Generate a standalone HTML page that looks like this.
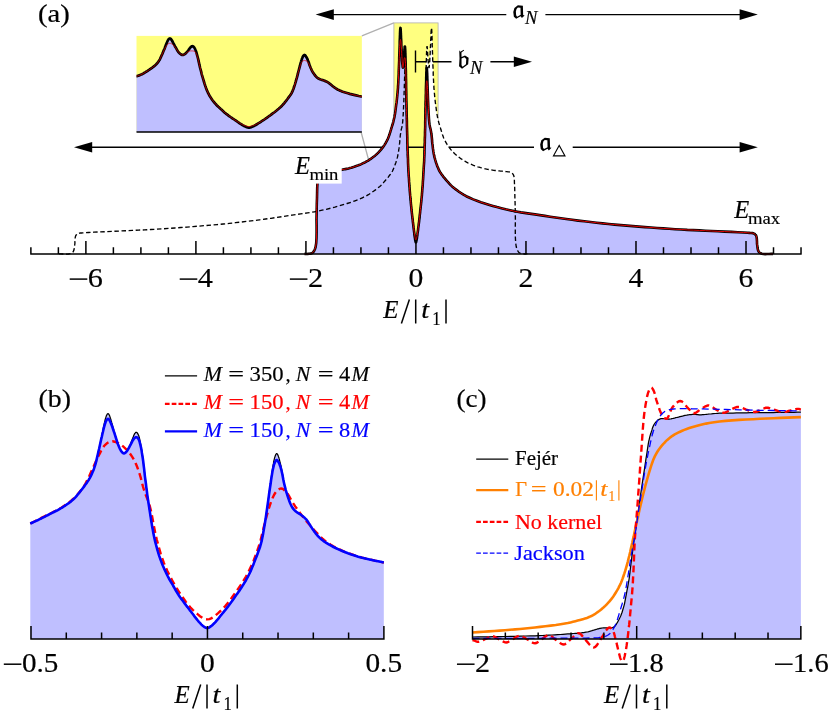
<!DOCTYPE html>
<html><head><meta charset="utf-8"><title>figure</title>
<style>html,body{margin:0;padding:0;background:#fff}svg{display:block}text{font-family:"Liberation Serif",serif}</style>
</head><body>
<svg width="832" height="713" viewBox="0 0 832 713">
<rect width="832" height="713" fill="#fff"/>
<g font-family="Liberation Serif, serif" fill="#000" style="will-change:opacity;opacity:0.9999">
<rect x="136.5" y="35.9" width="225.35" height="96" fill="#ffff80"/>
<rect x="393.9" y="22.9" width="44.2" height="230.6" fill="#ffff80" stroke="#b0b0b0" stroke-width="0.8"/>
<path d="M361.85,35.9 L393.9,22.9 M361.2,132.5 L393.9,253.5" stroke="#b0b0b0" stroke-width="1.3" fill="none"/>
<g stroke="#000" stroke-width="1.4" fill="none">
<path d="M330,14.6 H506.3 M545.4,14.6 H745"/>
<path d="M88,147.25 H534 M572.7,147.25 H745"/>
<path d="M415.5,50.5 V72.6 M415.5,61.7 H451.5 M490.4,61.7 H520"/>
</g>
<path d="M315.6,14.6 L333.8,9.3 L333.8,19.9 Z"/><path d="M757.8,14.6 L739.5999999999999,9.3 L739.5999999999999,19.9 Z"/><path d="M74,147.25 L92.2,141.95 L92.2,152.55 Z"/><path d="M757.8,147.25 L739.5999999999999,141.95 L739.5999999999999,152.55 Z"/><path d="M532,61.7 L513.8,56.400000000000006 L513.8,67.0 Z"/>
<path d="M58.9,253.9 L60.8,253.9 L62.8,254.0 L64.8,254.0 L66.7,254.1 L68.5,254.0 L69.9,253.7 L70.6,253.5 L71.2,253.2 L71.8,252.9 L72.3,252.6 L72.8,252.2 L73.2,251.7 L73.6,250.9 L74.0,249.8 L74.2,248.7 L74.4,247.5 L74.5,246.2 L74.7,245.0 L74.9,243.5 L74.9,241.9 L75.0,240.2 L75.1,238.6 L75.3,237.2 L75.6,236.0 L75.9,235.4 L76.2,235.0 L76.6,234.6 L76.9,234.2 L77.4,233.9 L77.9,233.6 L78.7,233.3 L79.5,233.1 L80.5,233.0 L81.5,233.0 L82.7,232.9 L84.1,232.8 L88.4,232.5 L94.0,232.2 L100.4,231.9 L107.2,231.6 L114.0,231.3 L120.4,231.0 L126.5,230.7 L132.5,230.4 L138.6,230.1 L144.6,229.9 L150.7,229.5 L156.7,229.2 L162.8,228.8 L168.8,228.4 L174.9,228.0 L180.9,227.5 L187.0,227.1 L193.0,226.6 L199.1,226.1 L205.1,225.6 L211.2,225.1 L217.2,224.6 L223.3,224.0 L229.3,223.4 L235.4,222.7 L241.5,222.0 L247.6,221.3 L253.7,220.6 L259.7,219.8 L265.6,219.0 L271.0,218.3 L276.4,217.5 L281.8,216.7 L287.0,215.9 L292.1,215.1 L296.9,214.4 L300.6,213.9 L304.2,213.4 L307.6,212.9 L311.0,212.4 L314.4,211.8 L318.0,211.1 L322.1,210.2 L326.3,209.3 L330.6,208.2 L334.9,207.1 L339.1,205.9 L343.2,204.7 L347.1,203.5 L351.1,202.2 L355.0,200.8 L358.7,199.4 L362.3,197.8 L365.7,196.2 L368.4,194.7 L371.0,193.0 L373.5,191.3 L375.8,189.6 L377.9,188.0 L379.8,186.4 L380.9,185.4 L381.8,184.5 L382.6,183.6 L383.4,182.7 L384.1,181.9 L384.9,181.0 L385.5,180.3 L386.1,179.6 L386.7,178.9 L387.3,178.2 L387.9,177.5 L388.5,176.9 L389.1,175.9 L389.8,175.0 L390.5,174.1 L391.2,173.1 L391.8,172.1 L392.5,171.0 L393.0,169.9 L393.5,168.7 L394.0,167.5 L394.6,166.3 L395.0,165.0 L395.5,163.6 L395.9,162.5 L396.3,161.2 L396.7,159.9 L397.0,158.6 L397.4,157.4 L397.7,156.1 L397.8,155.3 L398.0,154.5 L398.2,153.7 L398.3,152.9 L398.4,152.1 L398.6,151.2 L398.7,150.3 L398.8,149.4 L399.0,148.4 L399.1,147.4 L399.2,146.4 L399.3,145.4 L399.4,144.4 L399.6,143.4 L399.7,142.4 L399.8,141.4 L399.8,140.4 L399.9,139.5 L400.0,138.5 L400.1,137.5 L400.2,136.5 L400.3,135.5 L400.4,134.5 L400.6,133.6 L400.7,132.8 L400.8,132.1 L400.9,131.3 L401.1,130.6 L401.2,129.9 L401.3,129.2 L401.5,128.7 L401.6,128.2 L401.7,127.7 L401.9,127.2 L402.0,126.6 L402.1,126.0 L402.2,125.4 L402.3,124.8 L402.4,124.2 L402.5,123.5 L402.6,122.7 L402.7,121.8 L402.8,120.6 L402.9,119.3 L403.0,117.8 L403.1,116.2 L403.2,114.6 L403.3,112.9 L403.4,110.8 L403.5,108.6 L403.6,106.3 L403.7,103.9 L403.8,101.5 L403.9,99.0 L404.0,96.2 L404.1,93.1 L404.2,90.0 L404.3,87.0 L404.4,84.1 L404.5,81.5 L404.5,79.8 L404.6,78.1 L404.6,76.5 L404.7,75.0 L404.7,73.7 L404.8,72.4 L404.8,71.7 L404.9,71.0 L404.9,70.3 L404.9,69.7 L405.0,69.2 L405.0,68.7 L405.0,68.5 L405.1,68.3 L405.1,68.1 L405.1,67.9 L405.1,67.8 L405.2,67.8 L405.2,67.8 L405.2,67.9 L405.2,68.1 L405.3,68.3 L405.3,68.5 L405.3,68.7 L405.3,69.2 L405.4,69.7 L405.4,70.2 L405.4,70.8 L405.5,71.5 L405.5,72.2 L405.5,73.3 L405.6,74.6 L405.6,76.0 L405.7,77.4 L405.7,79.0 L405.7,80.7 L405.8,83.5 L405.9,86.6 L406.0,90.0 L406.0,93.5 L406.1,97.1 L406.2,100.7 L406.3,104.9 L406.4,109.4 L406.5,113.9 L406.6,118.4 L406.7,122.7 L406.7,126.7 L406.8,129.6 L406.9,132.4 L406.9,135.0 L407.0,137.6 L407.1,140.2 L407.1,142.7 L407.2,145.3 L407.3,147.9 L407.4,150.5 L407.4,153.1 L407.5,155.5 L407.6,157.7 L407.7,159.4 L407.7,160.9 L407.8,162.4 L407.9,163.8 L408.0,165.2 L408.1,166.7 L408.2,168.4 L408.3,170.1 L408.4,171.9 L408.5,173.6 L408.6,175.4 L408.7,177.1 L408.8,179.2 L409.0,181.3 L409.1,183.5 L409.2,185.6 L409.4,187.7 L409.6,189.8 L409.7,191.6 L409.9,193.5 L410.0,195.3 L410.2,197.1 L410.4,198.9 L410.5,200.6 L410.7,202.4 L410.9,204.2 L411.1,205.9 L411.3,207.7 L411.5,209.4 L411.7,211.0 L411.8,212.6 L412.0,214.2 L412.2,215.7 L412.3,217.3 L412.5,218.8 L412.7,220.2 L412.8,221.6 L413.0,223.0 L413.2,224.3 L413.3,225.6 L413.5,226.9 L413.7,228.2 L413.8,229.6 L414.0,231.0 L414.2,232.3 L414.4,233.6 L414.5,234.9 L414.7,236.0 L414.8,236.9 L414.9,237.7 L415.0,238.5 L415.2,239.2 L415.3,239.9 L415.4,240.5 L415.5,240.9 L415.6,241.3 L415.7,241.7 L415.8,242.1 L415.9,242.3 L416.0,242.4 L416.1,242.3 L416.2,242.1 L416.3,241.8 L416.4,241.4 L416.5,241.0 L416.6,240.5 L416.7,240.0 L416.8,239.3 L416.9,238.6 L417.0,237.8 L417.2,236.9 L417.3,236.0 L417.5,234.8 L417.6,233.4 L417.8,231.9 L418.0,230.3 L418.2,228.8 L418.4,227.2 L418.5,225.8 L418.7,224.3 L418.9,222.8 L419.1,221.4 L419.2,219.9 L419.4,218.4 L419.6,216.7 L419.8,215.1 L420.0,213.4 L420.2,211.7 L420.4,210.0 L420.5,208.2 L420.7,206.4 L420.9,204.6 L421.1,202.7 L421.2,200.8 L421.4,199.0 L421.5,197.2 L421.7,195.9 L421.8,194.7 L421.9,193.5 L422.0,192.3 L422.1,191.1 L422.2,189.8 L422.3,187.9 L422.5,186.0 L422.6,183.9 L422.8,181.9 L422.9,179.8 L423.0,177.8 L423.2,175.8 L423.3,174.0 L423.4,172.1 L423.5,170.2 L423.6,168.2 L423.7,166.2 L423.8,164.1 L423.9,161.9 L423.9,159.7 L424.0,157.4 L424.1,155.1 L424.2,152.7 L424.3,149.9 L424.4,147.0 L424.5,144.0 L424.6,140.9 L424.6,137.8 L424.7,134.7 L424.8,131.6 L424.9,128.3 L425.0,125.1 L425.0,121.8 L425.1,118.6 L425.2,115.2 L425.3,111.8 L425.3,108.3 L425.4,104.8 L425.5,101.3 L425.6,97.7 L425.6,94.2 L425.7,90.4 L425.8,86.5 L425.8,82.6 L425.9,78.7 L426.0,74.9 L426.0,71.4 L426.1,68.7 L426.2,66.0 L426.2,63.4 L426.3,61.0 L426.4,58.7 L426.4,56.5 L426.5,55.0 L426.5,53.6 L426.6,52.3 L426.6,51.0 L426.7,49.9 L426.7,48.9 L426.8,48.4 L426.8,47.8 L426.9,47.4 L426.9,47.0 L427.0,46.7 L427.0,46.6 L427.1,46.6 L427.1,46.7 L427.2,46.9 L427.2,47.1 L427.2,47.4 L427.3,47.8 L427.3,48.4 L427.4,49.1 L427.5,50.0 L427.5,51.0 L427.6,51.9 L427.6,52.9 L427.7,54.1 L427.8,55.5 L427.9,56.8 L427.9,58.2 L428.0,59.5 L428.1,60.8 L428.2,61.8 L428.3,62.8 L428.4,63.8 L428.4,64.7 L428.5,65.5 L428.6,66.1 L428.7,66.5 L428.7,66.9 L428.8,67.2 L428.9,67.4 L428.9,67.6 L429.0,67.6 L429.0,67.6 L429.1,67.4 L429.2,67.1 L429.2,66.7 L429.3,66.3 L429.3,65.8 L429.4,65.1 L429.5,64.1 L429.6,63.1 L429.7,61.9 L429.8,60.7 L429.8,59.5 L429.9,58.0 L430.0,56.5 L430.1,54.8 L430.2,53.1 L430.2,51.4 L430.3,49.7 L430.4,47.9 L430.5,46.0 L430.6,44.1 L430.6,42.2 L430.7,40.3 L430.8,38.6 L430.9,37.3 L430.9,36.0 L431.0,34.7 L431.0,33.5 L431.1,32.4 L431.1,31.4 L431.2,30.9 L431.2,30.3 L431.2,29.8 L431.2,29.4 L431.3,29.0 L431.3,28.6 L431.3,28.5 L431.4,28.3 L431.4,28.2 L431.4,28.1 L431.4,28.0 L431.5,27.9 L431.5,28.0 L431.5,28.1 L431.5,28.2 L431.5,28.3 L431.6,28.5 L431.6,28.6 L431.6,29.0 L431.7,29.4 L431.7,29.8 L431.7,30.3 L431.8,30.9 L431.8,31.4 L431.8,32.2 L431.9,33.1 L431.9,34.0 L431.9,35.0 L432.0,36.1 L432.0,37.2 L432.1,39.4 L432.2,41.9 L432.2,44.6 L432.3,47.3 L432.4,50.1 L432.5,52.7 L432.6,55.2 L432.7,57.7 L432.7,60.1 L432.8,62.5 L432.9,64.9 L433.0,67.3 L433.1,69.5 L433.2,71.7 L433.2,73.8 L433.3,75.9 L433.4,77.9 L433.5,79.8 L433.6,81.3 L433.6,82.7 L433.7,84.0 L433.8,85.3 L433.9,86.5 L433.9,87.7 L434.0,88.8 L434.1,89.8 L434.2,90.8 L434.3,91.8 L434.3,92.8 L434.5,93.9 L434.6,95.6 L434.8,97.4 L435.0,99.3 L435.2,101.1 L435.4,103.0 L435.7,104.8 L435.9,106.4 L436.1,108.0 L436.3,109.6 L436.5,111.1 L436.7,112.5 L436.9,113.9 L437.1,114.9 L437.3,115.8 L437.4,116.7 L437.6,117.6 L437.8,118.4 L438.0,119.2 L438.2,120.0 L438.4,120.8 L438.5,121.5 L438.7,122.3 L438.9,123.0 L439.1,123.6 L439.3,124.3 L439.5,125.0 L439.7,125.6 L439.9,126.2 L440.1,126.9 L440.3,127.5 L440.6,128.4 L440.8,129.3 L441.1,130.2 L441.4,131.1 L441.6,132.0 L441.9,132.8 L442.2,133.7 L442.4,134.5 L442.7,135.3 L443.0,136.1 L443.3,136.9 L443.6,137.8 L443.9,138.5 L444.3,139.3 L444.7,140.1 L445.1,140.9 L445.5,141.6 L445.9,142.4 L446.3,143.2 L446.8,143.9 L447.2,144.6 L447.7,145.4 L448.2,146.1 L448.8,146.9 L449.5,147.9 L450.3,148.9 L451.1,149.9 L452.0,150.9 L452.9,151.9 L453.8,152.8 L454.7,153.7 L455.7,154.6 L456.6,155.4 L457.6,156.2 L458.7,157.0 L459.7,157.8 L460.8,158.6 L461.9,159.3 L463.0,160.1 L464.1,160.8 L465.3,161.4 L466.5,162.1 L467.8,162.8 L469.2,163.4 L470.6,164.1 L472.0,164.7 L473.5,165.3 L474.9,165.8 L476.3,166.3 L477.7,166.8 L479.1,167.2 L480.6,167.7 L482.0,168.0 L483.3,168.4 L484.4,168.7 L485.5,168.9 L486.6,169.1 L487.7,169.3 L488.8,169.5 L489.9,169.7 L491.2,169.9 L492.5,170.1 L493.8,170.3 L495.2,170.5 L496.6,170.6 L497.9,170.8 L499.2,170.9 L500.6,171.1 L502.0,171.2 L503.3,171.3 L504.7,171.4 L505.9,171.6 L506.9,171.7 L508.0,171.8 L509.0,171.9 L509.9,172.0 L510.8,172.3 L511.5,172.6 L512.0,173.0 L512.4,173.4 L512.8,173.8 L513.1,174.3 L513.4,174.9 L513.7,175.5 L514.0,176.6 L514.2,177.8 L514.3,179.1 L514.4,180.6 L514.4,182.2 L514.5,184.0 L514.7,187.9 L514.8,192.6 L514.9,197.8 L515.1,203.2 L515.2,208.7 L515.3,214.0 L515.4,219.7 L515.3,225.9 L515.3,232.1 L515.4,238.0 L515.7,243.1 L516.3,247.0 L516.7,248.3 L517.1,249.5 L517.6,250.5 L518.1,251.4 L518.7,252.2 L519.4,252.8 L520.1,253.2 L520.8,253.5 L521.6,253.6 L522.4,253.7 L523.2,253.8 L523.9,253.9 L524.5,254.0 L525.1,254.0 L525.7,254.0 L526.2,253.9 L526.8,253.9 L527.4,253.9 L527.4,253.9 L58.9,253.9 Z" fill="#fff"/>
<path d="M304.5,253.9 L305.1,253.9 L305.7,253.9 L306.2,254.0 L306.8,254.0 L307.4,254.0 L308.0,253.9 L308.7,253.8 L309.5,253.7 L310.3,253.6 L311.1,253.5 L311.8,253.2 L312.5,252.8 L313.2,252.2 L313.8,251.4 L314.3,250.5 L314.8,249.5 L315.2,248.3 L315.6,247.0 L316.2,243.1 L316.5,238.0 L316.6,232.1 L316.6,225.9 L316.5,219.7 L316.6,214.0 L316.7,208.7 L316.8,203.2 L317.0,197.8 L317.1,192.6 L317.2,187.9 L317.4,184.0 L317.5,182.2 L317.5,180.6 L317.6,179.1 L317.7,177.8 L317.9,176.6 L318.2,175.5 L318.5,174.9 L318.8,174.3 L319.1,173.8 L319.5,173.4 L319.9,173.0 L320.4,172.6 L321.1,172.3 L322.0,172.0 L322.9,171.9 L323.9,171.8 L325.0,171.7 L326.0,171.6 L327.2,171.4 L328.6,171.3 L329.9,171.2 L331.3,171.1 L332.7,170.9 L334.0,170.8 L335.3,170.6 L336.7,170.5 L338.1,170.3 L339.4,170.1 L340.7,169.9 L342.0,169.7 L343.1,169.5 L344.2,169.3 L345.3,169.1 L346.4,168.9 L347.5,168.7 L348.6,168.4 L349.9,168.0 L351.3,167.7 L352.8,167.2 L354.2,166.8 L355.6,166.3 L357.0,165.8 L358.4,165.3 L359.9,164.7 L361.3,164.1 L362.7,163.4 L364.1,162.8 L365.4,162.1 L366.6,161.4 L367.8,160.8 L368.9,160.1 L370.0,159.3 L371.1,158.6 L372.2,157.8 L373.2,157.0 L374.3,156.2 L375.3,155.4 L376.2,154.6 L377.2,153.7 L378.1,152.8 L379.0,151.9 L379.9,150.9 L380.8,149.9 L381.6,148.9 L382.4,147.9 L383.1,146.9 L383.7,146.1 L384.2,145.4 L384.7,144.6 L385.1,143.9 L385.6,143.2 L386.0,142.4 L386.4,141.6 L386.8,140.9 L387.2,140.1 L387.6,139.3 L388.0,138.5 L388.3,137.8 L388.6,136.9 L388.9,136.1 L389.2,135.3 L389.5,134.5 L389.7,133.7 L390.0,132.8 L390.3,132.0 L390.5,131.1 L390.8,130.2 L391.1,129.3 L391.3,128.4 L391.6,127.5 L391.8,126.9 L392.0,126.2 L392.2,125.6 L392.4,125.0 L392.6,124.3 L392.8,123.6 L393.0,123.0 L393.2,122.3 L393.4,121.5 L393.5,120.8 L393.7,120.0 L393.9,119.2 L394.1,118.4 L394.3,117.6 L394.5,116.7 L394.6,115.8 L394.8,114.9 L395.0,113.9 L395.2,112.5 L395.4,111.1 L395.6,109.6 L395.8,108.0 L396.0,106.4 L396.2,104.8 L396.5,103.0 L396.7,101.1 L396.9,99.3 L397.1,97.4 L397.3,95.6 L397.4,93.9 L397.6,92.8 L397.6,91.8 L397.7,90.8 L397.8,89.8 L397.9,88.8 L398.0,87.7 L398.0,86.5 L398.1,85.3 L398.2,84.0 L398.3,82.7 L398.3,81.3 L398.4,79.8 L398.5,77.9 L398.6,75.9 L398.7,73.8 L398.7,71.7 L398.8,69.5 L398.9,67.3 L399.0,64.9 L399.1,62.5 L399.2,60.1 L399.2,57.7 L399.3,55.2 L399.4,52.7 L399.5,50.1 L399.6,47.3 L399.7,44.6 L399.7,41.9 L399.8,39.4 L399.9,37.2 L399.9,36.1 L400.0,35.0 L400.0,34.0 L400.0,33.1 L400.1,32.2 L400.1,31.4 L400.1,30.9 L400.2,30.3 L400.2,29.8 L400.2,29.4 L400.3,29.0 L400.3,28.6 L400.3,28.5 L400.4,28.3 L400.4,28.2 L400.4,28.1 L400.4,28.0 L400.4,27.9 L400.5,28.0 L400.5,28.1 L400.5,28.2 L400.5,28.3 L400.6,28.5 L400.6,28.6 L400.6,29.0 L400.7,29.4 L400.7,29.8 L400.7,30.3 L400.7,30.9 L400.8,31.4 L400.8,32.4 L400.9,33.5 L400.9,34.7 L401.0,36.0 L401.0,37.3 L401.1,38.6 L401.2,40.3 L401.3,42.2 L401.3,44.1 L401.4,46.0 L401.5,47.9 L401.6,49.7 L401.7,51.4 L401.7,53.1 L401.8,54.8 L401.9,56.5 L402.0,58.0 L402.1,59.5 L402.1,60.7 L402.2,61.9 L402.3,63.1 L402.4,64.1 L402.5,65.1 L402.6,65.8 L402.6,66.3 L402.7,66.7 L402.7,67.1 L402.8,67.4 L402.9,67.6 L402.9,67.6 L403.0,67.6 L403.0,67.4 L403.1,67.2 L403.2,66.9 L403.2,66.5 L403.3,66.1 L403.4,65.5 L403.5,64.7 L403.5,63.8 L403.6,62.8 L403.7,61.8 L403.8,60.8 L403.9,59.5 L404.0,58.2 L404.0,56.8 L404.1,55.5 L404.2,54.1 L404.3,52.9 L404.3,51.9 L404.4,51.0 L404.4,50.0 L404.5,49.1 L404.6,48.4 L404.6,47.8 L404.7,47.4 L404.7,47.1 L404.7,46.9 L404.8,46.7 L404.8,46.6 L404.9,46.6 L404.9,46.7 L405.0,47.0 L405.0,47.4 L405.1,47.8 L405.1,48.4 L405.2,48.9 L405.2,49.9 L405.3,51.0 L405.3,52.3 L405.4,53.6 L405.4,55.0 L405.5,56.5 L405.5,58.7 L405.6,61.0 L405.7,63.4 L405.7,66.0 L405.8,68.7 L405.9,71.4 L405.9,74.9 L406.0,78.7 L406.1,82.6 L406.1,86.5 L406.2,90.4 L406.3,94.2 L406.3,97.7 L406.4,101.3 L406.5,104.8 L406.6,108.3 L406.6,111.8 L406.7,115.2 L406.8,118.6 L406.9,121.8 L406.9,125.1 L407.0,128.3 L407.1,131.6 L407.2,134.7 L407.3,137.8 L407.3,140.9 L407.4,144.0 L407.5,147.0 L407.6,149.9 L407.7,152.7 L407.8,155.1 L407.9,157.4 L408.0,159.7 L408.0,161.9 L408.1,164.1 L408.2,166.2 L408.3,168.2 L408.4,170.2 L408.5,172.1 L408.6,174.0 L408.7,175.8 L408.9,177.8 L409.0,179.8 L409.1,181.9 L409.3,183.9 L409.4,186.0 L409.6,187.9 L409.7,189.8 L409.8,191.1 L409.9,192.3 L410.0,193.5 L410.1,194.7 L410.2,195.9 L410.4,197.2 L410.5,199.0 L410.7,200.8 L410.8,202.7 L411.0,204.6 L411.2,206.4 L411.4,208.2 L411.5,210.0 L411.7,211.7 L411.9,213.4 L412.1,215.1 L412.3,216.7 L412.5,218.4 L412.7,219.9 L412.8,221.4 L413.0,222.8 L413.2,224.3 L413.4,225.8 L413.5,227.2 L413.7,228.8 L413.9,230.3 L414.1,231.9 L414.3,233.4 L414.4,234.8 L414.6,236.0 L414.7,236.9 L414.9,237.8 L415.0,238.6 L415.1,239.3 L415.2,240.0 L415.3,240.5 L415.4,241.0 L415.5,241.4 L415.6,241.8 L415.7,242.1 L415.8,242.3 L415.9,242.4 L416.0,242.3 L416.1,242.1 L416.2,241.7 L416.3,241.3 L416.4,240.9 L416.5,240.5 L416.6,239.9 L416.7,239.2 L416.9,238.5 L417.0,237.7 L417.1,236.9 L417.2,236.0 L417.4,234.9 L417.5,233.6 L417.7,232.3 L417.9,231.0 L418.1,229.6 L418.2,228.2 L418.4,226.9 L418.6,225.6 L418.7,224.3 L418.9,223.0 L419.1,221.6 L419.2,220.2 L419.4,218.8 L419.6,217.3 L419.7,215.7 L419.9,214.2 L420.1,212.6 L420.2,211.0 L420.4,209.4 L420.6,207.7 L420.8,205.9 L421.0,204.2 L421.2,202.4 L421.4,200.6 L421.5,198.9 L421.7,197.1 L421.9,195.3 L422.0,193.5 L422.2,191.6 L422.3,189.8 L422.5,187.7 L422.7,185.6 L422.8,183.5 L422.9,181.3 L423.1,179.2 L423.2,177.1 L423.3,175.4 L423.4,173.6 L423.5,171.9 L423.6,170.1 L423.7,168.4 L423.8,166.7 L423.9,165.2 L424.0,163.8 L424.1,162.4 L424.2,160.9 L424.2,159.4 L424.3,157.7 L424.4,155.5 L424.5,153.1 L424.5,150.5 L424.6,147.9 L424.7,145.3 L424.8,142.7 L424.8,140.2 L424.9,137.6 L425.0,135.0 L425.0,132.4 L425.1,129.6 L425.2,126.7 L425.2,122.7 L425.3,118.4 L425.4,113.9 L425.5,109.4 L425.6,104.9 L425.7,100.7 L425.8,97.1 L425.9,93.5 L425.9,90.0 L426.0,86.6 L426.1,83.5 L426.2,80.7 L426.2,79.0 L426.2,77.4 L426.3,76.0 L426.3,74.6 L426.4,73.3 L426.4,72.2 L426.4,71.5 L426.5,70.8 L426.5,70.2 L426.5,69.7 L426.6,69.2 L426.6,68.7 L426.6,68.5 L426.6,68.3 L426.7,68.1 L426.7,67.9 L426.7,67.8 L426.7,67.8 L426.8,67.8 L426.8,67.9 L426.8,68.1 L426.8,68.3 L426.9,68.5 L426.9,68.7 L426.9,69.2 L427.0,69.7 L427.0,70.3 L427.0,71.0 L427.1,71.7 L427.1,72.4 L427.2,73.7 L427.2,75.0 L427.3,76.5 L427.3,78.1 L427.4,79.8 L427.4,81.5 L427.5,84.1 L427.6,87.0 L427.7,90.0 L427.8,93.1 L427.9,96.2 L428.0,99.0 L428.1,101.5 L428.2,103.9 L428.3,106.3 L428.4,108.6 L428.5,110.8 L428.6,112.9 L428.7,114.6 L428.8,116.2 L428.9,117.8 L429.0,119.3 L429.1,120.6 L429.2,121.8 L429.3,122.7 L429.4,123.5 L429.5,124.2 L429.6,124.8 L429.7,125.4 L429.8,126.0 L429.9,126.6 L430.0,127.2 L430.2,127.7 L430.3,128.2 L430.4,128.7 L430.6,129.2 L430.7,129.9 L430.8,130.6 L431.0,131.3 L431.1,132.1 L431.2,132.8 L431.3,133.6 L431.5,134.5 L431.6,135.5 L431.7,136.5 L431.8,137.5 L431.9,138.5 L432.0,139.5 L432.1,140.4 L432.1,141.4 L432.2,142.4 L432.3,143.4 L432.5,144.4 L432.6,145.4 L432.7,146.4 L432.8,147.4 L432.9,148.4 L433.1,149.4 L433.2,150.3 L433.3,151.2 L433.5,152.1 L433.6,152.9 L433.7,153.7 L433.9,154.5 L434.1,155.3 L434.2,156.1 L434.5,157.4 L434.9,158.6 L435.2,159.9 L435.6,161.2 L436.0,162.5 L436.4,163.6 L436.9,165.0 L437.3,166.3 L437.9,167.5 L438.4,168.7 L438.9,169.9 L439.4,171.0 L440.1,172.1 L440.7,173.1 L441.4,174.1 L442.1,175.0 L442.8,175.9 L443.4,176.9 L444.0,177.5 L444.6,178.2 L445.2,178.9 L445.8,179.6 L446.4,180.3 L447.0,181.0 L447.8,181.9 L448.5,182.7 L449.3,183.6 L450.1,184.5 L451.0,185.4 L452.1,186.4 L454.0,188.0 L456.1,189.6 L458.4,191.3 L460.9,193.0 L463.5,194.7 L466.2,196.2 L469.6,197.8 L473.2,199.4 L476.9,200.8 L480.8,202.2 L484.8,203.5 L488.7,204.7 L492.8,205.9 L497.0,207.1 L501.3,208.2 L505.6,209.3 L509.8,210.2 L513.9,211.1 L517.5,211.8 L520.9,212.4 L524.3,212.9 L527.7,213.4 L531.3,213.9 L535.0,214.4 L539.8,215.1 L544.9,215.9 L550.1,216.7 L555.5,217.5 L560.9,218.3 L566.3,219.0 L572.2,219.8 L578.2,220.6 L584.3,221.3 L590.4,222.0 L596.5,222.7 L602.6,223.4 L608.6,224.0 L614.7,224.6 L620.7,225.1 L626.8,225.6 L632.8,226.1 L638.9,226.6 L644.9,227.1 L651.0,227.5 L657.0,228.0 L663.1,228.4 L669.1,228.8 L675.2,229.2 L681.2,229.5 L687.3,229.9 L693.3,230.1 L699.4,230.4 L705.4,230.7 L711.5,231.0 L717.9,231.3 L724.7,231.6 L731.5,231.9 L737.9,232.2 L743.5,232.5 L747.8,232.8 L749.2,232.9 L750.4,233.0 L751.4,233.0 L752.4,233.1 L753.2,233.3 L754.0,233.6 L754.5,233.9 L755.0,234.2 L755.3,234.6 L755.7,235.0 L756.0,235.4 L756.3,236.0 L756.6,237.2 L756.8,238.6 L756.9,240.2 L757.0,241.9 L757.0,243.5 L757.2,245.0 L757.4,246.2 L757.5,247.5 L757.7,248.7 L757.9,249.8 L758.3,250.9 L758.7,251.7 L759.1,252.2 L759.6,252.6 L760.1,252.9 L760.7,253.2 L761.3,253.5 L762.0,253.7 L763.4,254.0 L765.2,254.1 L767.1,254.0 L769.1,254.0 L771.1,253.9 L773.0,253.9 L773.0,253.9 L304.5,253.9 Z" fill="#bfbfff"/>
<path d="M58.9,253.9 L60.8,253.9 L62.8,254.0 L64.8,254.0 L66.7,254.1 L68.5,254.0 L69.9,253.7 L70.6,253.5 L71.2,253.2 L71.8,252.9 L72.3,252.6 L72.8,252.2 L73.2,251.7 L73.6,250.9 L74.0,249.8 L74.2,248.7 L74.4,247.5 L74.5,246.2 L74.7,245.0 L74.9,243.5 L74.9,241.9 L75.0,240.2 L75.1,238.6 L75.3,237.2 L75.6,236.0 L75.9,235.4 L76.2,235.0 L76.6,234.6 L76.9,234.2 L77.4,233.9 L77.9,233.6 L78.7,233.3 L79.5,233.1 L80.5,233.0 L81.5,233.0 L82.7,232.9 L84.1,232.8 L88.4,232.5 L94.0,232.2 L100.4,231.9 L107.2,231.6 L114.0,231.3 L120.4,231.0 L126.5,230.7 L132.5,230.4 L138.6,230.1 L144.6,229.9 L150.7,229.5 L156.7,229.2 L162.8,228.8 L168.8,228.4 L174.9,228.0 L180.9,227.5 L187.0,227.1 L193.0,226.6 L199.1,226.1 L205.1,225.6 L211.2,225.1 L217.2,224.6 L223.3,224.0 L229.3,223.4 L235.4,222.7 L241.5,222.0 L247.6,221.3 L253.7,220.6 L259.7,219.8 L265.6,219.0 L271.0,218.3 L276.4,217.5 L281.8,216.7 L287.0,215.9 L292.1,215.1 L296.9,214.4 L300.6,213.9 L304.2,213.4 L307.6,212.9 L311.0,212.4 L314.4,211.8 L318.0,211.1 L322.1,210.2 L326.3,209.3 L330.6,208.2 L334.9,207.1 L339.1,205.9 L343.2,204.7 L347.1,203.5 L351.1,202.2 L355.0,200.8 L358.7,199.4 L362.3,197.8 L365.7,196.2 L368.4,194.7 L371.0,193.0 L373.5,191.3 L375.8,189.6 L377.9,188.0 L379.8,186.4 L380.9,185.4 L381.8,184.5 L382.6,183.6 L383.4,182.7 L384.1,181.9 L384.9,181.0 L385.5,180.3 L386.1,179.6 L386.7,178.9 L387.3,178.2 L387.9,177.5 L388.5,176.9 L389.1,175.9 L389.8,175.0 L390.5,174.1 L391.2,173.1 L391.8,172.1 L392.5,171.0 L393.0,169.9 L393.5,168.7 L394.0,167.5 L394.6,166.3 L395.0,165.0 L395.5,163.6 L395.9,162.5 L396.3,161.2 L396.7,159.9 L397.0,158.6 L397.4,157.4 L397.7,156.1 L397.8,155.3 L398.0,154.5 L398.2,153.7 L398.3,152.9 L398.4,152.1 L398.6,151.2 L398.7,150.3 L398.8,149.4 L399.0,148.4 L399.1,147.4 L399.2,146.4 L399.3,145.4 L399.4,144.4 L399.6,143.4 L399.7,142.4 L399.8,141.4 L399.8,140.4 L399.9,139.5 L400.0,138.5 L400.1,137.5 L400.2,136.5 L400.3,135.5 L400.4,134.5 L400.6,133.6 L400.7,132.8 L400.8,132.1 L400.9,131.3 L401.1,130.6 L401.2,129.9 L401.3,129.2 L401.5,128.7 L401.6,128.2 L401.7,127.7 L401.9,127.2 L402.0,126.6 L402.1,126.0 L402.2,125.4 L402.3,124.8 L402.4,124.2 L402.5,123.5 L402.6,122.7 L402.7,121.8 L402.8,120.6 L402.9,119.3 L403.0,117.8 L403.1,116.2 L403.2,114.6 L403.3,112.9 L403.4,110.8 L403.5,108.6 L403.6,106.3 L403.7,103.9 L403.8,101.5 L403.9,99.0 L404.0,96.2 L404.1,93.1 L404.2,90.0 L404.3,87.0 L404.4,84.1 L404.5,81.5 L404.5,79.8 L404.6,78.1 L404.6,76.5 L404.7,75.0 L404.7,73.7 L404.8,72.4 L404.8,71.7 L404.9,71.0 L404.9,70.3 L404.9,69.7 L405.0,69.2 L405.0,68.7 L405.0,68.5 L405.1,68.3 L405.1,68.1 L405.1,67.9 L405.1,67.8 L405.2,67.8 L405.2,67.8 L405.2,67.9 L405.2,68.1 L405.3,68.3 L405.3,68.5 L405.3,68.7 L405.3,69.2 L405.4,69.7 L405.4,70.2 L405.4,70.8 L405.5,71.5 L405.5,72.2 L405.5,73.3 L405.6,74.6 L405.6,76.0 L405.7,77.4 L405.7,79.0 L405.7,80.7 L405.8,83.5 L405.9,86.6 L406.0,90.0 L406.0,93.5 L406.1,97.1 L406.2,100.7 L406.3,104.9 L406.4,109.4 L406.5,113.9 L406.6,118.4 L406.7,122.7 L406.7,126.7 L406.8,129.6 L406.9,132.4 L406.9,135.0 L407.0,137.6 L407.1,140.2 L407.1,142.7 L407.2,145.3 L407.3,147.9 L407.4,150.5 L407.4,153.1 L407.5,155.5 L407.6,157.7 L407.7,159.4 L407.7,160.9 L407.8,162.4 L407.9,163.8 L408.0,165.2 L408.1,166.7 L408.2,168.4 L408.3,170.1 L408.4,171.9 L408.5,173.6 L408.6,175.4 L408.7,177.1 L408.8,179.2 L409.0,181.3 L409.1,183.5 L409.2,185.6 L409.4,187.7 L409.6,189.8 L409.7,191.6 L409.9,193.5 L410.0,195.3 L410.2,197.1 L410.4,198.9 L410.5,200.6 L410.7,202.4 L410.9,204.2 L411.1,205.9 L411.3,207.7 L411.5,209.4 L411.7,211.0 L411.8,212.6 L412.0,214.2 L412.2,215.7 L412.3,217.3 L412.5,218.8 L412.7,220.2 L412.8,221.6 L413.0,223.0 L413.2,224.3 L413.3,225.6 L413.5,226.9 L413.7,228.2 L413.8,229.6 L414.0,231.0 L414.2,232.3 L414.4,233.6 L414.5,234.9 L414.7,236.0 L414.8,236.9 L414.9,237.7 L415.0,238.5 L415.2,239.2 L415.3,239.9 L415.4,240.5 L415.5,240.9 L415.6,241.3 L415.7,241.7 L415.8,242.1 L415.9,242.3 L416.0,242.4 L416.1,242.3 L416.2,242.1 L416.3,241.8 L416.4,241.4 L416.5,241.0 L416.6,240.5 L416.7,240.0 L416.8,239.3 L416.9,238.6 L417.0,237.8 L417.2,236.9 L417.3,236.0 L417.5,234.8 L417.6,233.4 L417.8,231.9 L418.0,230.3 L418.2,228.8 L418.4,227.2 L418.5,225.8 L418.7,224.3 L418.9,222.8 L419.1,221.4 L419.2,219.9 L419.4,218.4 L419.6,216.7 L419.8,215.1 L420.0,213.4 L420.2,211.7 L420.4,210.0 L420.5,208.2 L420.7,206.4 L420.9,204.6 L421.1,202.7 L421.2,200.8 L421.4,199.0 L421.5,197.2 L421.7,195.9 L421.8,194.7 L421.9,193.5 L422.0,192.3 L422.1,191.1 L422.2,189.8 L422.3,187.9 L422.5,186.0 L422.6,183.9 L422.8,181.9 L422.9,179.8 L423.0,177.8 L423.2,175.8 L423.3,174.0 L423.4,172.1 L423.5,170.2 L423.6,168.2 L423.7,166.2 L423.8,164.1 L423.9,161.9 L423.9,159.7 L424.0,157.4 L424.1,155.1 L424.2,152.7 L424.3,149.9 L424.4,147.0 L424.5,144.0 L424.6,140.9 L424.6,137.8 L424.7,134.7 L424.8,131.6 L424.9,128.3 L425.0,125.1 L425.0,121.8 L425.1,118.6 L425.2,115.2 L425.3,111.8 L425.3,108.3 L425.4,104.8 L425.5,101.3 L425.6,97.7 L425.6,94.2 L425.7,90.4 L425.8,86.5 L425.8,82.6 L425.9,78.7 L426.0,74.9 L426.0,71.4 L426.1,68.7 L426.2,66.0 L426.2,63.4 L426.3,61.0 L426.4,58.7 L426.4,56.5 L426.5,55.0 L426.5,53.6 L426.6,52.3 L426.6,51.0 L426.7,49.9 L426.7,48.9 L426.8,48.4 L426.8,47.8 L426.9,47.4 L426.9,47.0 L427.0,46.7 L427.0,46.6 L427.1,46.6 L427.1,46.7 L427.2,46.9 L427.2,47.1 L427.2,47.4 L427.3,47.8 L427.3,48.4 L427.4,49.1 L427.5,50.0 L427.5,51.0 L427.6,51.9 L427.6,52.9 L427.7,54.1 L427.8,55.5 L427.9,56.8 L427.9,58.2 L428.0,59.5 L428.1,60.8 L428.2,61.8 L428.3,62.8 L428.4,63.8 L428.4,64.7 L428.5,65.5 L428.6,66.1 L428.7,66.5 L428.7,66.9 L428.8,67.2 L428.9,67.4 L428.9,67.6 L429.0,67.6 L429.0,67.6 L429.1,67.4 L429.2,67.1 L429.2,66.7 L429.3,66.3 L429.3,65.8 L429.4,65.1 L429.5,64.1 L429.6,63.1 L429.7,61.9 L429.8,60.7 L429.8,59.5 L429.9,58.0 L430.0,56.5 L430.1,54.8 L430.2,53.1 L430.2,51.4 L430.3,49.7 L430.4,47.9 L430.5,46.0 L430.6,44.1 L430.6,42.2 L430.7,40.3 L430.8,38.6 L430.9,37.3 L430.9,36.0 L431.0,34.7 L431.0,33.5 L431.1,32.4 L431.1,31.4 L431.2,30.9 L431.2,30.3 L431.2,29.8 L431.2,29.4 L431.3,29.0 L431.3,28.6 L431.3,28.5 L431.4,28.3 L431.4,28.2 L431.4,28.1 L431.4,28.0 L431.5,27.9 L431.5,28.0 L431.5,28.1 L431.5,28.2 L431.5,28.3 L431.6,28.5 L431.6,28.6 L431.6,29.0 L431.7,29.4 L431.7,29.8 L431.7,30.3 L431.8,30.9 L431.8,31.4 L431.8,32.2 L431.9,33.1 L431.9,34.0 L431.9,35.0 L432.0,36.1 L432.0,37.2 L432.1,39.4 L432.2,41.9 L432.2,44.6 L432.3,47.3 L432.4,50.1 L432.5,52.7 L432.6,55.2 L432.7,57.7 L432.7,60.1 L432.8,62.5 L432.9,64.9 L433.0,67.3 L433.1,69.5 L433.2,71.7 L433.2,73.8 L433.3,75.9 L433.4,77.9 L433.5,79.8 L433.6,81.3 L433.6,82.7 L433.7,84.0 L433.8,85.3 L433.9,86.5 L433.9,87.7 L434.0,88.8 L434.1,89.8 L434.2,90.8 L434.3,91.8 L434.3,92.8 L434.5,93.9 L434.6,95.6 L434.8,97.4 L435.0,99.3 L435.2,101.1 L435.4,103.0 L435.7,104.8 L435.9,106.4 L436.1,108.0 L436.3,109.6 L436.5,111.1 L436.7,112.5 L436.9,113.9 L437.1,114.9 L437.3,115.8 L437.4,116.7 L437.6,117.6 L437.8,118.4 L438.0,119.2 L438.2,120.0 L438.4,120.8 L438.5,121.5 L438.7,122.3 L438.9,123.0 L439.1,123.6 L439.3,124.3 L439.5,125.0 L439.7,125.6 L439.9,126.2 L440.1,126.9 L440.3,127.5 L440.6,128.4 L440.8,129.3 L441.1,130.2 L441.4,131.1 L441.6,132.0 L441.9,132.8 L442.2,133.7 L442.4,134.5 L442.7,135.3 L443.0,136.1 L443.3,136.9 L443.6,137.8 L443.9,138.5 L444.3,139.3 L444.7,140.1 L445.1,140.9 L445.5,141.6 L445.9,142.4 L446.3,143.2 L446.8,143.9 L447.2,144.6 L447.7,145.4 L448.2,146.1 L448.8,146.9 L449.5,147.9 L450.3,148.9 L451.1,149.9 L452.0,150.9 L452.9,151.9 L453.8,152.8 L454.7,153.7 L455.7,154.6 L456.6,155.4 L457.6,156.2 L458.7,157.0 L459.7,157.8 L460.8,158.6 L461.9,159.3 L463.0,160.1 L464.1,160.8 L465.3,161.4 L466.5,162.1 L467.8,162.8 L469.2,163.4 L470.6,164.1 L472.0,164.7 L473.5,165.3 L474.9,165.8 L476.3,166.3 L477.7,166.8 L479.1,167.2 L480.6,167.7 L482.0,168.0 L483.3,168.4 L484.4,168.7 L485.5,168.9 L486.6,169.1 L487.7,169.3 L488.8,169.5 L489.9,169.7 L491.2,169.9 L492.5,170.1 L493.8,170.3 L495.2,170.5 L496.6,170.6 L497.9,170.8 L499.2,170.9 L500.6,171.1 L502.0,171.2 L503.3,171.3 L504.7,171.4 L505.9,171.6 L506.9,171.7 L508.0,171.8 L509.0,171.9 L509.9,172.0 L510.8,172.3 L511.5,172.6 L512.0,173.0 L512.4,173.4 L512.8,173.8 L513.1,174.3 L513.4,174.9 L513.7,175.5 L514.0,176.6 L514.2,177.8 L514.3,179.1 L514.4,180.6 L514.4,182.2 L514.5,184.0 L514.7,187.9 L514.8,192.6 L514.9,197.8 L515.1,203.2 L515.2,208.7 L515.3,214.0 L515.4,219.7 L515.3,225.9 L515.3,232.1 L515.4,238.0 L515.7,243.1 L516.3,247.0 L516.7,248.3 L517.1,249.5 L517.6,250.5 L518.1,251.4 L518.7,252.2 L519.4,252.8 L520.1,253.2 L520.8,253.5 L521.6,253.6 L522.4,253.7 L523.2,253.8 L523.9,253.9 L524.5,254.0 L525.1,254.0 L525.7,254.0 L526.2,253.9 L526.8,253.9 L527.4,253.9" fill="none" stroke="#000" stroke-width="1.35" stroke-dasharray="4.5,2.6"/>
<path d="M304.5,253.9 L305.1,253.9 L305.7,253.9 L306.2,254.0 L306.8,254.0 L307.4,254.0 L308.0,253.9 L308.7,253.8 L309.5,253.7 L310.3,253.6 L311.1,253.5 L311.8,253.2 L312.5,252.8 L313.2,252.2 L313.8,251.4 L314.3,250.5 L314.8,249.5 L315.2,248.3 L315.6,247.0 L316.2,243.1 L316.5,238.0 L316.6,232.1 L316.6,225.9 L316.5,219.7 L316.6,214.0 L316.7,208.7 L316.8,203.2 L317.0,197.8 L317.1,192.6 L317.2,187.9 L317.4,184.0 L317.5,182.2 L317.5,180.6 L317.6,179.1 L317.7,177.8 L317.9,176.6 L318.2,175.5 L318.5,174.9 L318.8,174.3 L319.1,173.8 L319.5,173.4 L319.9,173.0 L320.4,172.6 L321.1,172.3 L322.0,172.0 L322.9,171.9 L323.9,171.8 L325.0,171.7 L326.0,171.6 L327.2,171.4 L328.6,171.3 L329.9,171.2 L331.3,171.1 L332.7,170.9 L334.0,170.8 L335.3,170.6 L336.7,170.5 L338.1,170.3 L339.4,170.1 L340.7,169.9 L342.0,169.7 L343.1,169.5 L344.2,169.3 L345.3,169.1 L346.4,168.9 L347.5,168.7 L348.6,168.4 L349.9,168.0 L351.3,167.7 L352.8,167.2 L354.2,166.8 L355.6,166.3 L357.0,165.8 L358.4,165.3 L359.9,164.7 L361.3,164.1 L362.7,163.4 L364.1,162.8 L365.4,162.1 L366.6,161.4 L367.8,160.8 L368.9,160.1 L370.0,159.3 L371.1,158.6 L372.2,157.8 L373.2,157.0 L374.3,156.2 L375.3,155.4 L376.2,154.6 L377.2,153.7 L378.1,152.8 L379.0,151.9 L379.9,150.9 L380.8,149.9 L381.6,148.9 L382.4,147.9 L383.1,146.9 L383.7,146.1 L384.2,145.4 L384.7,144.6 L385.1,143.9 L385.6,143.2 L386.0,142.4 L386.4,141.6 L386.8,140.9 L387.2,140.1 L387.6,139.3 L388.0,138.5 L388.3,137.8 L388.6,136.9 L388.9,136.1 L389.2,135.3 L389.5,134.5 L389.7,133.7 L390.0,132.8 L390.3,132.0 L390.5,131.1 L390.8,130.2 L391.1,129.3 L391.3,128.4 L391.6,127.5 L391.8,126.9 L392.0,126.2 L392.2,125.6 L392.4,125.0 L392.6,124.3 L392.8,123.6 L393.0,123.0 L393.2,122.3 L393.4,121.5 L393.5,120.8 L393.7,120.0 L393.9,119.2 L394.1,118.4 L394.3,117.6 L394.5,116.7 L394.6,115.8 L394.8,114.9 L395.0,113.9 L395.2,112.5 L395.4,111.1 L395.6,109.6 L395.8,108.0 L396.0,106.4 L396.2,104.8 L396.5,103.0 L396.7,101.1 L396.9,99.3 L397.1,97.4 L397.3,95.6 L397.4,93.9 L397.6,92.8 L397.6,91.8 L397.7,90.8 L397.8,89.8 L397.9,88.8 L398.0,87.7 L398.0,86.5 L398.1,85.3 L398.2,84.0 L398.3,82.7 L398.3,81.3 L398.4,79.8 L398.5,77.9 L398.6,75.9 L398.7,73.8 L398.7,71.7 L398.8,69.5 L398.9,67.3 L399.0,64.9 L399.1,62.5 L399.2,60.1 L399.2,57.7 L399.3,55.2 L399.4,52.7 L399.5,50.1 L399.6,47.3 L399.7,44.6 L399.7,41.9 L399.8,39.4 L399.9,37.2 L399.9,36.1 L400.0,35.0 L400.0,34.0 L400.0,33.1 L400.1,32.2 L400.1,31.4 L400.1,30.9 L400.2,30.3 L400.2,29.8 L400.2,29.4 L400.3,29.0 L400.3,28.6 L400.3,28.5 L400.4,28.3 L400.4,28.2 L400.4,28.1 L400.4,28.0 L400.4,27.9 L400.5,28.0 L400.5,28.1 L400.5,28.2 L400.5,28.3 L400.6,28.5 L400.6,28.6 L400.6,29.0 L400.7,29.4 L400.7,29.8 L400.7,30.3 L400.7,30.9 L400.8,31.4 L400.8,32.4 L400.9,33.5 L400.9,34.7 L401.0,36.0 L401.0,37.3 L401.1,38.6 L401.2,40.3 L401.3,42.2 L401.3,44.1 L401.4,46.0 L401.5,47.9 L401.6,49.7 L401.7,51.4 L401.7,53.1 L401.8,54.8 L401.9,56.5 L402.0,58.0 L402.1,59.5 L402.1,60.7 L402.2,61.9 L402.3,63.1 L402.4,64.1 L402.5,65.1 L402.6,65.8 L402.6,66.3 L402.7,66.7 L402.7,67.1 L402.8,67.4 L402.9,67.6 L402.9,67.6 L403.0,67.6 L403.0,67.4 L403.1,67.2 L403.2,66.9 L403.2,66.5 L403.3,66.1 L403.4,65.5 L403.5,64.7 L403.5,63.8 L403.6,62.8 L403.7,61.8 L403.8,60.8 L403.9,59.5 L404.0,58.2 L404.0,56.8 L404.1,55.5 L404.2,54.1 L404.3,52.9 L404.3,51.9 L404.4,51.0 L404.4,50.0 L404.5,49.1 L404.6,48.4 L404.6,47.8 L404.7,47.4 L404.7,47.1 L404.7,46.9 L404.8,46.7 L404.8,46.6 L404.9,46.6 L404.9,46.7 L405.0,47.0 L405.0,47.4 L405.1,47.8 L405.1,48.4 L405.2,48.9 L405.2,49.9 L405.3,51.0 L405.3,52.3 L405.4,53.6 L405.4,55.0 L405.5,56.5 L405.5,58.7 L405.6,61.0 L405.7,63.4 L405.7,66.0 L405.8,68.7 L405.9,71.4 L405.9,74.9 L406.0,78.7 L406.1,82.6 L406.1,86.5 L406.2,90.4 L406.3,94.2 L406.3,97.7 L406.4,101.3 L406.5,104.8 L406.6,108.3 L406.6,111.8 L406.7,115.2 L406.8,118.6 L406.9,121.8 L406.9,125.1 L407.0,128.3 L407.1,131.6 L407.2,134.7 L407.3,137.8 L407.3,140.9 L407.4,144.0 L407.5,147.0 L407.6,149.9 L407.7,152.7 L407.8,155.1 L407.9,157.4 L408.0,159.7 L408.0,161.9 L408.1,164.1 L408.2,166.2 L408.3,168.2 L408.4,170.2 L408.5,172.1 L408.6,174.0 L408.7,175.8 L408.9,177.8 L409.0,179.8 L409.1,181.9 L409.3,183.9 L409.4,186.0 L409.6,187.9 L409.7,189.8 L409.8,191.1 L409.9,192.3 L410.0,193.5 L410.1,194.7 L410.2,195.9 L410.4,197.2 L410.5,199.0 L410.7,200.8 L410.8,202.7 L411.0,204.6 L411.2,206.4 L411.4,208.2 L411.5,210.0 L411.7,211.7 L411.9,213.4 L412.1,215.1 L412.3,216.7 L412.5,218.4 L412.7,219.9 L412.8,221.4 L413.0,222.8 L413.2,224.3 L413.4,225.8 L413.5,227.2 L413.7,228.8 L413.9,230.3 L414.1,231.9 L414.3,233.4 L414.4,234.8 L414.6,236.0 L414.7,236.9 L414.9,237.8 L415.0,238.6 L415.1,239.3 L415.2,240.0 L415.3,240.5 L415.4,241.0 L415.5,241.4 L415.6,241.8 L415.7,242.1 L415.8,242.3 L415.9,242.4 L416.0,242.3 L416.1,242.1 L416.2,241.7 L416.3,241.3 L416.4,240.9 L416.5,240.5 L416.6,239.9 L416.7,239.2 L416.9,238.5 L417.0,237.7 L417.1,236.9 L417.2,236.0 L417.4,234.9 L417.5,233.6 L417.7,232.3 L417.9,231.0 L418.1,229.6 L418.2,228.2 L418.4,226.9 L418.6,225.6 L418.7,224.3 L418.9,223.0 L419.1,221.6 L419.2,220.2 L419.4,218.8 L419.6,217.3 L419.7,215.7 L419.9,214.2 L420.1,212.6 L420.2,211.0 L420.4,209.4 L420.6,207.7 L420.8,205.9 L421.0,204.2 L421.2,202.4 L421.4,200.6 L421.5,198.9 L421.7,197.1 L421.9,195.3 L422.0,193.5 L422.2,191.6 L422.3,189.8 L422.5,187.7 L422.7,185.6 L422.8,183.5 L422.9,181.3 L423.1,179.2 L423.2,177.1 L423.3,175.4 L423.4,173.6 L423.5,171.9 L423.6,170.1 L423.7,168.4 L423.8,166.7 L423.9,165.2 L424.0,163.8 L424.1,162.4 L424.2,160.9 L424.2,159.4 L424.3,157.7 L424.4,155.5 L424.5,153.1 L424.5,150.5 L424.6,147.9 L424.7,145.3 L424.8,142.7 L424.8,140.2 L424.9,137.6 L425.0,135.0 L425.0,132.4 L425.1,129.6 L425.2,126.7 L425.2,122.7 L425.3,118.4 L425.4,113.9 L425.5,109.4 L425.6,104.9 L425.7,100.7 L425.8,97.1 L425.9,93.5 L425.9,90.0 L426.0,86.6 L426.1,83.5 L426.2,80.7 L426.2,79.0 L426.2,77.4 L426.3,76.0 L426.3,74.6 L426.4,73.3 L426.4,72.2 L426.4,71.5 L426.5,70.8 L426.5,70.2 L426.5,69.7 L426.6,69.2 L426.6,68.7 L426.6,68.5 L426.6,68.3 L426.7,68.1 L426.7,67.9 L426.7,67.8 L426.7,67.8 L426.8,67.8 L426.8,67.9 L426.8,68.1 L426.8,68.3 L426.9,68.5 L426.9,68.7 L426.9,69.2 L427.0,69.7 L427.0,70.3 L427.0,71.0 L427.1,71.7 L427.1,72.4 L427.2,73.7 L427.2,75.0 L427.3,76.5 L427.3,78.1 L427.4,79.8 L427.4,81.5 L427.5,84.1 L427.6,87.0 L427.7,90.0 L427.8,93.1 L427.9,96.2 L428.0,99.0 L428.1,101.5 L428.2,103.9 L428.3,106.3 L428.4,108.6 L428.5,110.8 L428.6,112.9 L428.7,114.6 L428.8,116.2 L428.9,117.8 L429.0,119.3 L429.1,120.6 L429.2,121.8 L429.3,122.7 L429.4,123.5 L429.5,124.2 L429.6,124.8 L429.7,125.4 L429.8,126.0 L429.9,126.6 L430.0,127.2 L430.2,127.7 L430.3,128.2 L430.4,128.7 L430.6,129.2 L430.7,129.9 L430.8,130.6 L431.0,131.3 L431.1,132.1 L431.2,132.8 L431.3,133.6 L431.5,134.5 L431.6,135.5 L431.7,136.5 L431.8,137.5 L431.9,138.5 L432.0,139.5 L432.1,140.4 L432.1,141.4 L432.2,142.4 L432.3,143.4 L432.5,144.4 L432.6,145.4 L432.7,146.4 L432.8,147.4 L432.9,148.4 L433.1,149.4 L433.2,150.3 L433.3,151.2 L433.5,152.1 L433.6,152.9 L433.7,153.7 L433.9,154.5 L434.1,155.3 L434.2,156.1 L434.5,157.4 L434.9,158.6 L435.2,159.9 L435.6,161.2 L436.0,162.5 L436.4,163.6 L436.9,165.0 L437.3,166.3 L437.9,167.5 L438.4,168.7 L438.9,169.9 L439.4,171.0 L440.1,172.1 L440.7,173.1 L441.4,174.1 L442.1,175.0 L442.8,175.9 L443.4,176.9 L444.0,177.5 L444.6,178.2 L445.2,178.9 L445.8,179.6 L446.4,180.3 L447.0,181.0 L447.8,181.9 L448.5,182.7 L449.3,183.6 L450.1,184.5 L451.0,185.4 L452.1,186.4 L454.0,188.0 L456.1,189.6 L458.4,191.3 L460.9,193.0 L463.5,194.7 L466.2,196.2 L469.6,197.8 L473.2,199.4 L476.9,200.8 L480.8,202.2 L484.8,203.5 L488.7,204.7 L492.8,205.9 L497.0,207.1 L501.3,208.2 L505.6,209.3 L509.8,210.2 L513.9,211.1 L517.5,211.8 L520.9,212.4 L524.3,212.9 L527.7,213.4 L531.3,213.9 L535.0,214.4 L539.8,215.1 L544.9,215.9 L550.1,216.7 L555.5,217.5 L560.9,218.3 L566.3,219.0 L572.2,219.8 L578.2,220.6 L584.3,221.3 L590.4,222.0 L596.5,222.7 L602.6,223.4 L608.6,224.0 L614.7,224.6 L620.7,225.1 L626.8,225.6 L632.8,226.1 L638.9,226.6 L644.9,227.1 L651.0,227.5 L657.0,228.0 L663.1,228.4 L669.1,228.8 L675.2,229.2 L681.2,229.5 L687.3,229.9 L693.3,230.1 L699.4,230.4 L705.4,230.7 L711.5,231.0 L717.9,231.3 L724.7,231.6 L731.5,231.9 L737.9,232.2 L743.5,232.5 L747.8,232.8 L749.2,232.9 L750.4,233.0 L751.4,233.0 L752.4,233.1 L753.2,233.3 L754.0,233.6 L754.5,233.9 L755.0,234.2 L755.3,234.6 L755.7,235.0 L756.0,235.4 L756.3,236.0 L756.6,237.2 L756.8,238.6 L756.9,240.2 L757.0,241.9 L757.0,243.5 L757.2,245.0 L757.4,246.2 L757.5,247.5 L757.7,248.7 L757.9,249.8 L758.3,250.9 L758.7,251.7 L759.1,252.2 L759.6,252.6 L760.1,252.9 L760.7,253.2 L761.3,253.5 L762.0,253.7 L763.4,254.0 L765.2,254.1 L767.1,254.0 L769.1,254.0 L771.1,253.9 L773.0,253.9" fill="none" stroke="#000" stroke-width="2.6" stroke-linejoin="round"/>
<path d="M304.5,253.9 L305.1,253.9 L305.7,253.9 L306.2,254.0 L306.8,254.0 L307.4,254.0 L308.0,253.9 L308.7,253.8 L309.5,253.7 L310.3,253.6 L311.1,253.5 L311.8,253.2 L312.5,252.8 L313.2,252.2 L313.8,251.4 L314.3,250.5 L314.8,249.5 L315.2,248.3 L315.6,247.0 L316.2,243.1 L316.5,238.0 L316.6,232.1 L316.6,225.9 L316.5,219.7 L316.6,214.0 L316.7,208.7 L316.8,203.2 L317.0,197.8 L317.1,192.6 L317.2,187.9 L317.4,184.0 L317.5,182.2 L317.5,180.6 L317.6,179.1 L317.7,177.8 L317.9,176.6 L318.2,175.5 L318.5,174.9 L318.8,174.3 L319.1,173.8 L319.5,173.4 L319.9,173.0 L320.4,172.6 L321.1,172.3 L322.0,172.0 L322.9,171.9 L323.9,171.8 L325.0,171.7 L326.0,171.6 L327.2,171.4 L328.6,171.3 L329.9,171.2 L331.3,171.1 L332.7,170.9 L334.0,170.8 L335.3,170.6 L336.7,170.5 L338.1,170.3 L339.4,170.1 L340.7,169.9 L342.0,169.7 L343.1,169.5 L344.2,169.3 L345.3,169.1 L346.4,168.9 L347.5,168.7 L348.6,168.4 L349.9,168.0 L351.3,167.7 L352.8,167.2 L354.2,166.8 L355.6,166.3 L357.0,165.8 L358.4,165.3 L359.9,164.7 L361.3,164.1 L362.7,163.4 L364.1,162.8 L365.4,162.1 L366.6,161.4 L367.8,160.8 L368.9,160.1 L370.0,159.3 L371.1,158.6 L372.2,157.8 L373.2,157.0 L374.3,156.2 L375.3,155.4 L376.2,154.6 L377.2,153.7 L378.1,152.8 L379.0,151.9 L379.9,150.9 L380.8,149.9 L381.6,148.9 L382.4,147.9 L383.1,146.9 L383.7,146.1 L384.2,145.4 L384.7,144.6 L385.1,143.9 L385.6,143.2 L386.0,142.4 L386.4,141.6 L386.8,140.9 L387.2,140.1 L387.6,139.3 L388.0,138.5 L388.3,137.8 L388.6,136.9 L388.9,136.1 L389.2,135.3 L389.5,134.5 L389.7,133.7 L390.0,132.8 L390.3,132.0 L390.5,131.1 L390.8,130.2 L391.1,129.3 L391.3,128.4 L391.6,127.5 L391.8,126.9 L392.0,126.2 L392.2,125.6 L392.4,125.0 L392.6,124.3 L392.8,123.6 L393.0,123.0 L393.2,122.3 L393.4,121.5 L393.5,120.8 L393.7,120.0 L393.9,119.2 L394.1,118.4 L394.3,117.6 L394.5,116.7 L394.6,115.8 L394.8,114.9 L395.0,113.9 L395.2,112.5 L395.4,111.1 L395.6,109.6 L395.8,108.0 L396.0,106.4 L396.2,104.8 L396.5,103.0 L396.7,101.1 L396.9,99.3 L397.1,97.4 L397.3,95.6 L397.4,94.0 L397.6,92.8 L397.6,91.8 L397.7,90.8 L397.8,89.8 L397.9,88.8 L398.0,87.8 L398.0,86.5 L398.1,85.3 L398.2,84.0 L398.3,82.7 L398.3,81.3 L398.4,79.9 L398.5,78.0 L398.6,75.9 L398.7,73.8 L398.7,71.7 L398.8,69.5 L398.9,67.4 L399.0,65.2 L399.1,62.9 L399.1,60.6 L399.2,58.4 L399.3,56.2 L399.4,54.0 L399.5,52.1 L399.6,50.1 L399.6,48.2 L399.7,46.4 L399.8,44.8 L399.9,43.4 L399.9,42.9 L400.0,42.3 L400.0,41.9 L400.0,41.5 L400.1,41.1 L400.1,40.8 L400.2,40.6 L400.2,40.4 L400.2,40.2 L400.2,40.0 L400.3,39.9 L400.3,39.8 L400.3,39.7 L400.4,39.7 L400.4,39.6 L400.4,39.6 L400.4,39.6 L400.4,39.5 L400.5,39.6 L400.5,39.6 L400.5,39.6 L400.5,39.7 L400.6,39.7 L400.6,39.8 L400.6,39.9 L400.6,40.1 L400.7,40.2 L400.7,40.4 L400.7,40.6 L400.8,40.8 L400.8,41.1 L400.9,41.5 L400.9,42.0 L401.0,42.4 L401.0,43.0 L401.1,43.5 L401.2,44.5 L401.3,45.6 L401.3,46.8 L401.4,48.0 L401.5,49.3 L401.6,50.6 L401.7,52.1 L401.7,53.6 L401.8,55.1 L401.9,56.7 L402.0,58.2 L402.1,59.6 L402.1,60.8 L402.2,61.9 L402.3,63.1 L402.4,64.1 L402.5,65.1 L402.6,65.9 L402.6,66.3 L402.7,66.7 L402.7,67.1 L402.8,67.4 L402.9,67.6 L402.9,67.7 L403.0,67.6 L403.0,67.5 L403.1,67.2 L403.2,66.9 L403.2,66.6 L403.3,66.2 L403.4,65.6 L403.5,64.9 L403.5,64.1 L403.6,63.3 L403.7,62.5 L403.8,61.7 L403.9,61.1 L403.9,60.4 L404.0,59.7 L404.1,59.1 L404.2,58.6 L404.3,58.2 L404.3,58.0 L404.4,57.9 L404.4,57.8 L404.5,57.8 L404.6,57.8 L404.6,57.8 L404.7,57.8 L404.7,57.8 L404.8,57.8 L404.8,57.9 L404.8,57.9 L404.9,57.9 L404.9,58.0 L405.0,58.0 L405.0,58.1 L405.1,58.1 L405.1,58.3 L405.2,58.4 L405.2,58.8 L405.3,59.2 L405.3,59.8 L405.4,60.4 L405.4,61.1 L405.5,61.8 L405.6,63.2 L405.6,64.9 L405.7,66.7 L405.7,68.7 L405.8,70.8 L405.9,73.0 L405.9,76.1 L406.0,79.6 L406.1,83.2 L406.1,87.0 L406.2,90.7 L406.3,94.4 L406.3,97.9 L406.4,101.4 L406.5,104.9 L406.6,108.4 L406.6,111.8 L406.7,115.3 L406.8,118.6 L406.9,121.8 L406.9,125.1 L407.0,128.3 L407.1,131.6 L407.2,134.8 L407.3,137.8 L407.3,140.9 L407.4,144.0 L407.5,147.0 L407.6,149.9 L407.7,152.8 L407.8,155.1 L407.9,157.4 L408.0,159.7 L408.0,161.9 L408.1,164.1 L408.2,166.3 L408.3,168.2 L408.4,170.2 L408.5,172.1 L408.6,174.0 L408.7,175.8 L408.9,177.8 L409.0,179.8 L409.1,181.9 L409.3,183.9 L409.4,186.0 L409.6,187.9 L409.7,189.7 L409.8,191.1 L409.9,192.3 L410.0,193.5 L410.1,194.7 L410.2,195.9 L410.4,197.2 L410.5,199.0 L410.7,200.8 L410.8,202.7 L411.0,204.6 L411.2,206.4 L411.4,208.2 L411.5,210.0 L411.7,211.7 L411.9,213.4 L412.1,215.1 L412.3,216.7 L412.5,218.3 L412.7,219.9 L412.8,221.4 L413.0,222.8 L413.2,224.3 L413.4,225.8 L413.5,227.2 L413.7,228.6 L413.9,230.0 L414.1,231.5 L414.3,232.8 L414.4,234.1 L414.6,235.2 L414.7,235.9 L414.9,236.5 L415.0,237.1 L415.1,237.6 L415.2,238.1 L415.3,238.5 L415.4,238.8 L415.5,239.1 L415.6,239.4 L415.7,239.6 L415.8,239.7 L415.9,239.8 L416.0,239.7 L416.1,239.5 L416.2,239.3 L416.3,239.0 L416.4,238.7 L416.5,238.4 L416.6,237.9 L416.7,237.5 L416.9,237.0 L417.0,236.4 L417.1,235.8 L417.2,235.2 L417.4,234.2 L417.5,233.1 L417.7,231.9 L417.9,230.7 L418.1,229.4 L418.2,228.2 L418.4,226.9 L418.6,225.6 L418.7,224.3 L418.9,223.0 L419.1,221.6 L419.2,220.2 L419.4,218.8 L419.6,217.3 L419.7,215.7 L419.9,214.2 L420.1,212.6 L420.2,211.0 L420.4,209.4 L420.6,207.7 L420.8,205.9 L421.0,204.2 L421.2,202.4 L421.4,200.6 L421.5,198.9 L421.7,197.1 L421.9,195.3 L422.0,193.5 L422.2,191.6 L422.3,189.7 L422.5,187.7 L422.7,185.6 L422.8,183.5 L422.9,181.3 L423.1,179.2 L423.2,177.2 L423.3,175.4 L423.4,173.6 L423.5,171.9 L423.6,170.1 L423.7,168.4 L423.8,166.8 L423.9,165.2 L424.0,163.8 L424.1,162.4 L424.2,160.9 L424.2,159.4 L424.3,157.8 L424.4,155.5 L424.5,153.1 L424.5,150.5 L424.6,147.9 L424.7,145.3 L424.8,142.8 L424.8,140.2 L424.9,137.6 L425.0,135.0 L425.0,132.4 L425.1,129.6 L425.2,126.8 L425.2,122.8 L425.3,118.6 L425.4,114.2 L425.5,109.8 L425.6,105.6 L425.7,101.7 L425.8,98.8 L425.9,95.9 L425.9,93.1 L426.0,90.4 L426.1,88.1 L426.2,86.2 L426.2,85.3 L426.2,84.5 L426.3,83.8 L426.3,83.2 L426.4,82.7 L426.4,82.2 L426.4,81.9 L426.5,81.7 L426.5,81.6 L426.5,81.4 L426.6,81.3 L426.6,81.1 L426.6,81.0 L426.7,80.9 L426.7,80.9 L426.7,80.8 L426.7,80.8 L426.7,80.8 L426.8,80.8 L426.8,80.8 L426.8,80.9 L426.8,81.0 L426.9,81.0 L426.9,81.1 L426.9,81.2 L427.0,81.3 L427.0,81.4 L427.0,81.6 L427.1,81.7 L427.1,81.9 L427.2,82.3 L427.2,82.8 L427.3,83.3 L427.3,83.9 L427.4,84.6 L427.4,85.4 L427.5,87.2 L427.6,89.3 L427.7,91.8 L427.8,94.4 L427.9,97.0 L428.0,99.4 L428.1,101.7 L428.2,104.1 L428.3,106.4 L428.4,108.7 L428.5,110.9 L428.6,113.0 L428.7,114.6 L428.8,116.2 L428.9,117.8 L429.0,119.2 L429.1,120.6 L429.2,121.9 L429.3,122.7 L429.4,123.5 L429.5,124.2 L429.6,124.8 L429.7,125.4 L429.8,126.1 L429.9,126.6 L430.0,127.2 L430.2,127.7 L430.3,128.2 L430.4,128.7 L430.6,129.2 L430.7,129.9 L430.8,130.6 L431.0,131.3 L431.1,132.1 L431.2,132.8 L431.3,133.6 L431.5,134.5 L431.6,135.5 L431.7,136.5 L431.8,137.5 L431.9,138.5 L432.0,139.5 L432.1,140.4 L432.1,141.4 L432.2,142.4 L432.3,143.4 L432.5,144.4 L432.6,145.4 L432.7,146.4 L432.8,147.4 L432.9,148.4 L433.1,149.4 L433.2,150.3 L433.3,151.2 L433.5,152.1 L433.6,152.9 L433.7,153.7 L433.9,154.5 L434.1,155.3 L434.2,156.1 L434.5,157.4 L434.9,158.6 L435.2,159.9 L435.6,161.2 L436.0,162.5 L436.4,163.6 L436.9,165.0 L437.3,166.3 L437.9,167.5 L438.4,168.7 L438.9,169.9 L439.4,171.0 L440.1,172.1 L440.7,173.1 L441.4,174.1 L442.1,175.0 L442.8,175.9 L443.4,176.9 L444.0,177.5 L444.6,178.2 L445.2,178.9 L445.8,179.6 L446.4,180.3 L447.0,181.0 L447.8,181.9 L448.5,182.7 L449.3,183.6 L450.1,184.5 L451.0,185.4 L452.1,186.4 L454.0,188.0 L456.1,189.6 L458.4,191.3 L460.9,193.0 L463.5,194.7 L466.2,196.2 L469.6,197.8 L473.2,199.4 L476.9,200.8 L480.8,202.2 L484.8,203.5 L488.7,204.7 L492.8,205.9 L497.0,207.1 L501.3,208.2 L505.6,209.3 L509.8,210.2 L513.9,211.1 L517.5,211.8 L520.9,212.4 L524.3,212.9 L527.7,213.4 L531.3,213.9 L535.0,214.4 L539.8,215.1 L544.9,215.9 L550.1,216.7 L555.5,217.5 L560.9,218.3 L566.3,219.0 L572.2,219.8 L578.2,220.6 L584.3,221.3 L590.4,222.0 L596.5,222.7 L602.6,223.4 L608.6,224.0 L614.7,224.6 L620.7,225.1 L626.8,225.6 L632.8,226.1 L638.9,226.6 L644.9,227.1 L651.0,227.5 L657.0,228.0 L663.1,228.4 L669.1,228.8 L675.2,229.2 L681.2,229.5 L687.3,229.9 L693.3,230.1 L699.4,230.4 L705.4,230.7 L711.5,231.0 L717.9,231.3 L724.7,231.6 L731.5,231.9 L737.9,232.2 L743.5,232.5 L747.8,232.8 L749.2,232.9 L750.4,233.0 L751.4,233.0 L752.4,233.1 L753.2,233.3 L754.0,233.6 L754.5,233.9 L755.0,234.2 L755.3,234.6 L755.7,235.0 L756.0,235.4 L756.3,236.0 L756.6,237.2 L756.8,238.6 L756.9,240.2 L757.0,241.9 L757.0,243.5 L757.2,245.0 L757.4,246.2 L757.5,247.5 L757.7,248.7 L757.9,249.8 L758.3,250.9 L758.7,251.7 L759.1,252.2 L759.6,252.6 L760.1,252.9 L760.7,253.2 L761.3,253.5 L762.0,253.7 L763.4,254.0 L765.2,254.1 L767.1,254.0 L769.1,254.0 L771.1,253.9 L773.0,253.9" fill="none" stroke="#e00000" stroke-width="1.0" stroke-linejoin="round"/>
<path d="M136.5,76.1 L137.3,76.1 L138.2,75.7 L139.2,75.4 L140.1,75.0 L141.1,74.6 L142.0,74.2 L143.1,73.6 L144.1,73.0 L145.2,72.4 L146.2,71.7 L147.3,71.1 L148.3,70.4 L149.4,69.7 L150.5,68.9 L151.6,68.1 L152.7,67.3 L153.6,66.6 L154.5,65.9 L155.0,65.5 L155.5,65.0 L155.9,64.6 L156.3,64.2 L156.7,63.8 L157.1,63.3 L157.5,62.8 L157.9,62.3 L158.3,61.8 L158.7,61.2 L159.1,60.6 L159.5,60.0 L159.9,59.3 L160.3,58.4 L160.7,57.5 L161.1,56.6 L161.5,55.7 L161.9,54.8 L162.4,53.8 L162.8,52.9 L163.2,51.8 L163.6,50.8 L164.0,49.8 L164.5,48.8 L164.9,47.7 L165.3,46.5 L165.8,45.4 L166.2,44.3 L166.6,43.2 L167.0,42.3 L167.2,41.8 L167.4,41.4 L167.6,41.0 L167.8,40.6 L168.0,40.2 L168.2,39.9 L168.3,39.7 L168.5,39.5 L168.6,39.3 L168.8,39.1 L168.9,38.9 L169.1,38.8 L169.2,38.7 L169.4,38.6 L169.5,38.6 L169.6,38.5 L169.7,38.5 L169.8,38.5 L170.0,38.5 L170.1,38.5 L170.2,38.6 L170.3,38.6 L170.4,38.7 L170.6,38.8 L170.7,38.9 L170.9,39.1 L171.1,39.2 L171.2,39.5 L171.4,39.7 L171.5,39.9 L171.8,40.3 L172.1,40.8 L172.3,41.3 L172.6,41.8 L172.9,42.3 L173.2,42.9 L173.6,43.6 L174.0,44.4 L174.4,45.2 L174.8,46.0 L175.2,46.8 L175.7,47.5 L176.1,48.2 L176.5,48.9 L176.9,49.6 L177.3,50.3 L177.7,51.0 L178.1,51.6 L178.5,52.1 L178.9,52.6 L179.4,53.1 L179.8,53.5 L180.2,53.9 L180.7,54.2 L181.0,54.4 L181.3,54.6 L181.6,54.7 L181.9,54.9 L182.2,54.9 L182.5,55.0 L182.8,55.0 L183.2,54.9 L183.5,54.8 L183.8,54.7 L184.1,54.5 L184.4,54.3 L184.8,54.1 L185.3,53.7 L185.7,53.4 L186.1,52.9 L186.5,52.5 L186.9,52.1 L187.4,51.6 L187.8,51.0 L188.2,50.5 L188.6,49.9 L189.0,49.4 L189.4,48.8 L189.7,48.4 L190.0,48.0 L190.3,47.6 L190.6,47.3 L190.9,47.0 L191.2,46.7 L191.4,46.6 L191.6,46.4 L191.9,46.3 L192.1,46.3 L192.3,46.2 L192.5,46.2 L192.8,46.3 L193.0,46.4 L193.3,46.5 L193.5,46.7 L193.8,47.0 L194.0,47.2 L194.3,47.6 L194.6,48.1 L194.9,48.6 L195.1,49.1 L195.4,49.7 L195.6,50.3 L196.0,51.2 L196.3,52.2 L196.6,53.2 L196.9,54.3 L197.2,55.4 L197.5,56.5 L197.9,58.0 L198.3,59.6 L198.6,61.2 L199.0,62.8 L199.3,64.4 L199.7,66.0 L200.0,67.5 L200.4,69.0 L200.8,70.4 L201.2,71.9 L201.5,73.3 L201.9,74.8 L202.3,76.1 L202.7,77.5 L203.1,78.9 L203.5,80.2 L203.9,81.5 L204.3,82.9 L204.7,84.2 L205.1,85.4 L205.6,86.7 L206.0,88.0 L206.5,89.2 L206.9,90.4 L207.4,91.3 L207.8,92.3 L208.3,93.3 L208.7,94.2 L209.2,95.1 L209.7,96.0 L210.2,96.8 L210.7,97.6 L211.2,98.4 L211.8,99.2 L212.3,100.0 L212.9,100.8 L213.6,101.6 L214.3,102.5 L215.0,103.3 L215.8,104.2 L216.5,105.0 L217.2,105.7 L217.8,106.3 L218.3,106.8 L218.9,107.3 L219.4,107.8 L220.0,108.3 L220.6,108.9 L221.4,109.6 L222.2,110.3 L223.0,111.1 L223.9,111.9 L224.8,112.7 L225.7,113.4 L226.6,114.2 L227.6,114.9 L228.5,115.6 L229.5,116.3 L230.5,117.0 L231.4,117.6 L232.4,118.3 L233.3,118.9 L234.2,119.5 L235.1,120.1 L236.0,120.7 L236.9,121.3 L237.8,122.0 L238.7,122.6 L239.7,123.3 L240.6,123.9 L241.5,124.5 L242.4,125.0 L243.0,125.4 L243.6,125.7 L244.2,126.0 L244.8,126.3 L245.4,126.6 L246.0,126.9 L246.5,127.0 L247.0,127.2 L247.5,127.4 L248.0,127.5 L248.5,127.6 L249.0,127.6 L249.5,127.6 L250.0,127.5 L250.5,127.4 L251.0,127.2 L251.5,127.0 L252.0,126.8 L252.6,126.6 L253.2,126.3 L253.8,126.0 L254.5,125.7 L255.1,125.3 L255.7,125.0 L256.5,124.5 L257.4,124.0 L258.2,123.4 L259.1,122.9 L260.0,122.3 L260.8,121.8 L261.7,121.2 L262.5,120.7 L263.4,120.1 L264.2,119.6 L265.1,119.0 L265.9,118.4 L266.8,117.8 L267.7,117.2 L268.5,116.5 L269.4,115.9 L270.3,115.3 L271.2,114.6 L272.1,113.9 L273.1,113.2 L274.1,112.5 L275.1,111.7 L276.0,111.0 L276.9,110.3 L277.8,109.5 L278.7,108.8 L279.5,108.1 L280.4,107.3 L281.2,106.5 L282.0,105.7 L282.7,104.9 L283.5,104.0 L284.3,103.1 L285.0,102.2 L285.7,101.4 L286.3,100.5 L286.9,99.8 L287.5,99.0 L288.0,98.3 L288.5,97.6 L289.0,96.9 L289.5,96.2 L290.0,95.6 L290.4,95.0 L290.8,94.4 L291.2,93.8 L291.6,93.1 L291.9,92.4 L292.4,91.5 L292.8,90.5 L293.2,89.4 L293.6,88.4 L294.0,87.3 L294.3,86.2 L294.7,85.1 L295.0,84.1 L295.3,83.0 L295.7,81.9 L296.0,80.7 L296.3,79.5 L296.8,77.9 L297.3,76.1 L297.8,74.2 L298.2,72.3 L298.7,70.5 L299.2,68.7 L299.6,67.2 L300.0,65.7 L300.3,64.3 L300.7,62.9 L301.1,61.6 L301.4,60.4 L301.7,59.7 L301.9,59.0 L302.1,58.4 L302.3,57.9 L302.5,57.3 L302.8,56.9 L302.9,56.6 L303.1,56.3 L303.2,56.0 L303.4,55.8 L303.6,55.6 L303.7,55.4 L303.9,55.3 L304.0,55.2 L304.1,55.1 L304.2,55.1 L304.3,55.0 L304.5,55.0 L304.6,55.0 L304.7,55.1 L304.8,55.1 L304.9,55.2 L305.1,55.3 L305.2,55.4 L305.4,55.6 L305.6,55.8 L305.7,56.1 L305.9,56.4 L306.1,56.7 L306.3,57.0 L306.6,57.5 L306.9,58.0 L307.2,58.7 L307.5,59.3 L307.7,60.0 L308.0,60.7 L308.5,61.8 L308.9,63.0 L309.3,64.3 L309.7,65.6 L310.2,66.8 L310.7,68.0 L311.2,69.0 L311.7,70.1 L312.2,71.1 L312.7,72.0 L313.3,72.9 L313.9,73.8 L314.4,74.5 L314.8,75.2 L315.3,75.8 L315.9,76.4 L316.4,77.0 L317.0,77.5 L317.5,77.9 L317.9,78.2 L318.5,78.5 L319.0,78.7 L319.5,79.0 L320.1,79.3 L320.7,79.5 L321.4,79.7 L322.0,79.9 L322.7,80.1 L323.4,80.3 L324.0,80.6 L324.7,80.9 L325.4,81.1 L326.1,81.4 L326.7,81.8 L327.4,82.1 L328.0,82.4 L328.6,82.8 L329.1,83.2 L329.6,83.6 L330.1,84.0 L330.6,84.4 L331.1,84.8 L331.6,85.2 L332.1,85.6 L332.6,86.1 L333.1,86.5 L333.7,86.9 L334.2,87.3 L334.8,87.7 L335.4,88.1 L336.1,88.5 L336.7,89.0 L337.4,89.4 L338.1,89.7 L338.8,90.1 L339.6,90.4 L340.3,90.8 L341.1,91.1 L341.9,91.4 L342.8,91.8 L344.4,92.3 L346.1,92.8 L347.9,93.3 L349.8,93.9 L351.8,94.4 L353.9,94.9 L356.2,95.4 L358.7,96.0 L361.3,96.5 L361.9,96.5 L361.9,131.9 L136.5,131.9 Z" fill="#bfbfff"/>
<path d="M136.5,76.1 L137.3,76.1 L138.2,75.7 L139.2,75.4 L140.1,75.0 L141.1,74.6 L142.0,74.2 L143.1,73.6 L144.1,73.0 L145.2,72.4 L146.2,71.7 L147.3,71.1 L148.3,70.4 L149.4,69.7 L150.5,68.9 L151.6,68.1 L152.7,67.3 L153.6,66.6 L154.5,65.9 L155.0,65.5 L155.5,65.0 L155.9,64.6 L156.3,64.2 L156.7,63.8 L157.1,63.3 L157.5,62.8 L157.9,62.3 L158.3,61.8 L158.7,61.2 L159.1,60.6 L159.5,60.0 L159.9,59.3 L160.3,58.4 L160.7,57.5 L161.1,56.6 L161.5,55.7 L161.9,54.8 L162.4,53.8 L162.8,52.9 L163.2,51.8 L163.6,50.8 L164.0,49.8 L164.5,48.8 L164.9,47.7 L165.3,46.5 L165.8,45.4 L166.2,44.3 L166.6,43.2 L167.0,42.3 L167.2,41.8 L167.4,41.4 L167.6,41.0 L167.8,40.6 L168.0,40.2 L168.2,39.9 L168.3,39.7 L168.5,39.5 L168.6,39.3 L168.8,39.1 L168.9,38.9 L169.1,38.8 L169.2,38.7 L169.4,38.6 L169.5,38.6 L169.6,38.5 L169.7,38.5 L169.8,38.5 L170.0,38.5 L170.1,38.5 L170.2,38.6 L170.3,38.6 L170.4,38.7 L170.6,38.8 L170.7,38.9 L170.9,39.1 L171.1,39.2 L171.2,39.5 L171.4,39.7 L171.5,39.9 L171.8,40.3 L172.1,40.8 L172.3,41.3 L172.6,41.8 L172.9,42.3 L173.2,42.9 L173.6,43.6 L174.0,44.4 L174.4,45.2 L174.8,46.0 L175.2,46.8 L175.7,47.5 L176.1,48.2 L176.5,48.9 L176.9,49.6 L177.3,50.3 L177.7,51.0 L178.1,51.6 L178.5,52.1 L178.9,52.6 L179.4,53.1 L179.8,53.5 L180.2,53.9 L180.7,54.2 L181.0,54.4 L181.3,54.6 L181.6,54.7 L181.9,54.9 L182.2,54.9 L182.5,55.0 L182.8,55.0 L183.2,54.9 L183.5,54.8 L183.8,54.7 L184.1,54.5 L184.4,54.3 L184.8,54.1 L185.3,53.7 L185.7,53.4 L186.1,52.9 L186.5,52.5 L186.9,52.1 L187.4,51.6 L187.8,51.0 L188.2,50.5 L188.6,49.9 L189.0,49.4 L189.4,48.8 L189.7,48.4 L190.0,48.0 L190.3,47.6 L190.6,47.3 L190.9,47.0 L191.2,46.7 L191.4,46.6 L191.6,46.4 L191.9,46.3 L192.1,46.3 L192.3,46.2 L192.5,46.2 L192.8,46.3 L193.0,46.4 L193.3,46.5 L193.5,46.7 L193.8,47.0 L194.0,47.2 L194.3,47.6 L194.6,48.1 L194.9,48.6 L195.1,49.1 L195.4,49.7 L195.6,50.3 L196.0,51.2 L196.3,52.2 L196.6,53.2 L196.9,54.3 L197.2,55.4 L197.5,56.5 L197.9,58.0 L198.3,59.6 L198.6,61.2 L199.0,62.8 L199.3,64.4 L199.7,66.0 L200.0,67.5 L200.4,69.0 L200.8,70.4 L201.2,71.9 L201.5,73.3 L201.9,74.8 L202.3,76.1 L202.7,77.5 L203.1,78.9 L203.5,80.2 L203.9,81.5 L204.3,82.9 L204.7,84.2 L205.1,85.4 L205.6,86.7 L206.0,88.0 L206.5,89.2 L206.9,90.4 L207.4,91.3 L207.8,92.3 L208.3,93.3 L208.7,94.2 L209.2,95.1 L209.7,96.0 L210.2,96.8 L210.7,97.6 L211.2,98.4 L211.8,99.2 L212.3,100.0 L212.9,100.8 L213.6,101.6 L214.3,102.5 L215.0,103.3 L215.8,104.2 L216.5,105.0 L217.2,105.7 L217.8,106.3 L218.3,106.8 L218.9,107.3 L219.4,107.8 L220.0,108.3 L220.6,108.9 L221.4,109.6 L222.2,110.3 L223.0,111.1 L223.9,111.9 L224.8,112.7 L225.7,113.4 L226.6,114.2 L227.6,114.9 L228.5,115.6 L229.5,116.3 L230.5,117.0 L231.4,117.6 L232.4,118.3 L233.3,118.9 L234.2,119.5 L235.1,120.1 L236.0,120.7 L236.9,121.3 L237.8,122.0 L238.7,122.6 L239.7,123.3 L240.6,123.9 L241.5,124.5 L242.4,125.0 L243.0,125.4 L243.6,125.7 L244.2,126.0 L244.8,126.3 L245.4,126.6 L246.0,126.9 L246.5,127.0 L247.0,127.2 L247.5,127.4 L248.0,127.5 L248.5,127.6 L249.0,127.6 L249.5,127.6 L250.0,127.5 L250.5,127.4 L251.0,127.2 L251.5,127.0 L252.0,126.8 L252.6,126.6 L253.2,126.3 L253.8,126.0 L254.5,125.7 L255.1,125.3 L255.7,125.0 L256.5,124.5 L257.4,124.0 L258.2,123.4 L259.1,122.9 L260.0,122.3 L260.8,121.8 L261.7,121.2 L262.5,120.7 L263.4,120.1 L264.2,119.6 L265.1,119.0 L265.9,118.4 L266.8,117.8 L267.7,117.2 L268.5,116.5 L269.4,115.9 L270.3,115.3 L271.2,114.6 L272.1,113.9 L273.1,113.2 L274.1,112.5 L275.1,111.7 L276.0,111.0 L276.9,110.3 L277.8,109.5 L278.7,108.8 L279.5,108.1 L280.4,107.3 L281.2,106.5 L282.0,105.7 L282.7,104.9 L283.5,104.0 L284.3,103.1 L285.0,102.2 L285.7,101.4 L286.3,100.5 L286.9,99.8 L287.5,99.0 L288.0,98.3 L288.5,97.6 L289.0,96.9 L289.5,96.2 L290.0,95.6 L290.4,95.0 L290.8,94.4 L291.2,93.8 L291.6,93.1 L291.9,92.4 L292.4,91.5 L292.8,90.5 L293.2,89.4 L293.6,88.4 L294.0,87.3 L294.3,86.2 L294.7,85.1 L295.0,84.1 L295.3,83.0 L295.7,81.9 L296.0,80.7 L296.3,79.5 L296.8,77.9 L297.3,76.1 L297.8,74.2 L298.2,72.3 L298.7,70.5 L299.2,68.7 L299.6,67.2 L300.0,65.7 L300.3,64.3 L300.7,62.9 L301.1,61.6 L301.4,60.4 L301.7,59.7 L301.9,59.0 L302.1,58.4 L302.3,57.9 L302.5,57.3 L302.8,56.9 L302.9,56.6 L303.1,56.3 L303.2,56.0 L303.4,55.8 L303.6,55.6 L303.7,55.4 L303.9,55.3 L304.0,55.2 L304.1,55.1 L304.2,55.1 L304.3,55.0 L304.5,55.0 L304.6,55.0 L304.7,55.1 L304.8,55.1 L304.9,55.2 L305.1,55.3 L305.2,55.4 L305.4,55.6 L305.6,55.8 L305.7,56.1 L305.9,56.4 L306.1,56.7 L306.3,57.0 L306.6,57.5 L306.9,58.0 L307.2,58.7 L307.5,59.3 L307.7,60.0 L308.0,60.7 L308.5,61.8 L308.9,63.0 L309.3,64.3 L309.7,65.6 L310.2,66.8 L310.7,68.0 L311.2,69.0 L311.7,70.1 L312.2,71.1 L312.7,72.0 L313.3,72.9 L313.9,73.8 L314.4,74.5 L314.8,75.2 L315.3,75.8 L315.9,76.4 L316.4,77.0 L317.0,77.5 L317.5,77.9 L317.9,78.2 L318.5,78.5 L319.0,78.7 L319.5,79.0 L320.1,79.3 L320.7,79.5 L321.4,79.7 L322.0,79.9 L322.7,80.1 L323.4,80.3 L324.0,80.6 L324.7,80.9 L325.4,81.1 L326.1,81.4 L326.7,81.8 L327.4,82.1 L328.0,82.4 L328.6,82.8 L329.1,83.2 L329.6,83.6 L330.1,84.0 L330.6,84.4 L331.1,84.8 L331.6,85.2 L332.1,85.6 L332.6,86.1 L333.1,86.5 L333.7,86.9 L334.2,87.3 L334.8,87.7 L335.4,88.1 L336.1,88.5 L336.7,89.0 L337.4,89.4 L338.1,89.7 L338.8,90.1 L339.6,90.4 L340.3,90.8 L341.1,91.1 L341.9,91.4 L342.8,91.8 L344.4,92.3 L346.1,92.8 L347.9,93.3 L349.8,93.9 L351.8,94.4 L353.9,94.9 L356.2,95.4 L358.7,96.0 L361.3,96.5 L361.9,96.5" fill="none" stroke="#000" stroke-width="2.7" stroke-linejoin="round"/>
<path d="M136.5,76.1 L137.3,76.1 L138.2,75.7 L139.2,75.4 L140.1,75.0 L141.1,74.6 L142.0,74.2 L143.1,73.6 L144.1,73.0 L145.2,72.4 L146.2,71.7 L147.3,71.1 L148.3,70.4 L149.4,69.7 L150.5,68.9 L151.6,68.1 L152.7,67.3 L153.6,66.6 L154.5,65.9 L155.0,65.5 L155.5,65.0 L155.9,64.6 L156.3,64.2 L156.7,63.8 L157.1,63.3 L157.5,62.8 L157.9,62.3 L158.3,61.8 L158.7,61.2 L159.1,60.6 L159.5,60.0 L159.9,59.3 L160.3,58.4 L160.7,57.5 L161.1,56.7 L161.5,55.8 L161.9,54.9 L162.4,53.9 L162.8,53.0 L163.2,52.1 L163.6,51.1 L164.0,50.2 L164.5,49.3 L164.9,48.5 L165.3,47.7 L165.7,46.9 L166.1,46.1 L166.6,45.5 L167.0,44.9 L167.2,44.7 L167.4,44.5 L167.6,44.3 L167.8,44.1 L168.0,43.9 L168.2,43.8 L168.3,43.7 L168.5,43.6 L168.6,43.6 L168.8,43.5 L169.0,43.4 L169.1,43.4 L169.2,43.4 L169.4,43.3 L169.5,43.3 L169.6,43.3 L169.7,43.3 L169.8,43.3 L170.0,43.3 L170.1,43.3 L170.2,43.3 L170.3,43.3 L170.4,43.4 L170.6,43.4 L170.7,43.4 L170.9,43.5 L171.0,43.6 L171.2,43.6 L171.4,43.7 L171.5,43.8 L171.8,44.0 L172.1,44.1 L172.3,44.3 L172.6,44.5 L172.9,44.7 L173.2,44.9 L173.6,45.3 L174.0,45.8 L174.4,46.3 L174.9,46.8 L175.3,47.4 L175.7,47.9 L176.1,48.5 L176.5,49.1 L176.9,49.8 L177.3,50.4 L177.7,51.0 L178.1,51.6 L178.5,52.1 L179.0,52.6 L179.4,53.1 L179.8,53.5 L180.2,53.9 L180.7,54.2 L181.0,54.4 L181.3,54.6 L181.6,54.7 L181.9,54.9 L182.2,54.9 L182.5,55.0 L182.8,55.0 L183.2,54.9 L183.5,54.8 L183.8,54.7 L184.1,54.5 L184.4,54.4 L184.8,54.1 L185.2,53.8 L185.7,53.5 L186.1,53.2 L186.5,52.8 L186.9,52.5 L187.3,52.2 L187.7,52.0 L188.1,51.7 L188.6,51.4 L189.0,51.2 L189.4,51.1 L189.7,51.0 L190.0,50.9 L190.3,50.9 L190.6,50.9 L190.9,50.9 L191.2,50.9 L191.5,50.9 L191.7,50.9 L191.9,50.9 L192.1,50.9 L192.3,50.9 L192.5,50.9 L192.8,51.0 L193.0,51.0 L193.3,51.0 L193.5,51.0 L193.8,51.1 L194.0,51.1 L194.3,51.3 L194.6,51.5 L194.9,51.7 L195.1,52.0 L195.4,52.2 L195.6,52.5 L196.0,53.1 L196.3,53.8 L196.7,54.6 L197.0,55.4 L197.2,56.3 L197.5,57.2 L197.9,58.5 L198.3,59.9 L198.6,61.5 L199.0,63.0 L199.3,64.6 L199.7,66.1 L200.1,67.5 L200.4,69.0 L200.8,70.5 L201.2,71.9 L201.5,73.3 L201.9,74.8 L202.3,76.1 L202.7,77.5 L203.1,78.9 L203.5,80.2 L203.9,81.5 L204.3,82.9 L204.7,84.2 L205.1,85.4 L205.6,86.7 L206.0,88.0 L206.5,89.2 L206.9,90.4 L207.4,91.3 L207.8,92.3 L208.3,93.3 L208.7,94.2 L209.2,95.1 L209.7,96.0 L210.2,96.8 L210.7,97.6 L211.2,98.4 L211.8,99.2 L212.3,100.0 L212.9,100.8 L213.6,101.6 L214.3,102.5 L215.0,103.3 L215.8,104.2 L216.5,105.0 L217.2,105.7 L217.8,106.3 L218.3,106.8 L218.9,107.3 L219.4,107.8 L220.0,108.3 L220.6,108.9 L221.4,109.6 L222.2,110.3 L223.0,111.1 L223.9,111.9 L224.8,112.7 L225.7,113.4 L226.6,114.2 L227.6,114.9 L228.5,115.6 L229.5,116.3 L230.5,117.0 L231.4,117.6 L232.3,118.3 L233.2,118.9 L234.1,119.5 L235.0,120.1 L236.0,120.7 L236.9,121.3 L237.8,121.9 L238.7,122.5 L239.6,123.1 L240.6,123.7 L241.5,124.2 L242.4,124.6 L243.0,124.9 L243.6,125.2 L244.2,125.4 L244.8,125.6 L245.4,125.8 L246.0,126.0 L246.5,126.1 L247.0,126.3 L247.5,126.4 L248.0,126.5 L248.5,126.5 L249.0,126.5 L249.5,126.5 L250.0,126.4 L250.5,126.3 L251.0,126.2 L251.5,126.1 L252.0,126.0 L252.6,125.8 L253.2,125.6 L253.8,125.4 L254.5,125.2 L255.1,124.9 L255.7,124.6 L256.5,124.2 L257.4,123.8 L258.2,123.3 L259.1,122.8 L260.0,122.2 L260.8,121.7 L261.7,121.2 L262.5,120.7 L263.4,120.1 L264.2,119.6 L265.1,119.0 L265.9,118.4 L266.8,117.8 L267.7,117.2 L268.5,116.6 L269.4,115.9 L270.3,115.3 L271.2,114.6 L272.1,113.9 L273.1,113.2 L274.1,112.5 L275.1,111.7 L276.0,111.0 L276.9,110.3 L277.8,109.5 L278.7,108.8 L279.5,108.1 L280.4,107.3 L281.2,106.5 L282.0,105.7 L282.7,104.9 L283.5,104.0 L284.3,103.1 L285.0,102.2 L285.7,101.4 L286.3,100.5 L286.9,99.8 L287.5,99.0 L288.0,98.3 L288.5,97.6 L289.0,96.9 L289.5,96.2 L290.0,95.6 L290.4,95.0 L290.8,94.4 L291.2,93.8 L291.6,93.1 L291.9,92.4 L292.4,91.5 L292.8,90.5 L293.2,89.4 L293.6,88.4 L294.0,87.3 L294.3,86.2 L294.7,85.1 L295.0,84.1 L295.3,83.0 L295.7,81.9 L296.0,80.7 L296.3,79.6 L296.8,77.9 L297.2,76.2 L297.7,74.3 L298.2,72.5 L298.7,70.7 L299.2,69.1 L299.6,67.9 L299.9,66.7 L300.3,65.5 L300.6,64.5 L301.0,63.5 L301.4,62.7 L301.6,62.3 L301.9,62.0 L302.1,61.7 L302.3,61.4 L302.5,61.2 L302.8,61.0 L302.9,60.9 L303.1,60.8 L303.3,60.8 L303.4,60.7 L303.6,60.6 L303.7,60.6 L303.9,60.5 L304.0,60.5 L304.1,60.5 L304.2,60.4 L304.3,60.4 L304.5,60.4 L304.6,60.4 L304.7,60.4 L304.8,60.5 L304.9,60.5 L305.0,60.5 L305.2,60.6 L305.4,60.6 L305.5,60.7 L305.7,60.7 L305.9,60.8 L306.1,60.8 L306.3,60.9 L306.6,61.1 L306.9,61.3 L307.2,61.5 L307.5,61.7 L307.8,62.0 L308.0,62.3 L308.5,63.1 L309.0,64.0 L309.4,65.0 L309.8,66.1 L310.2,67.2 L310.7,68.2 L311.2,69.1 L311.7,70.1 L312.2,71.1 L312.7,72.0 L313.3,72.9 L313.9,73.8 L314.4,74.5 L314.8,75.2 L315.3,75.8 L315.9,76.4 L316.4,77.0 L317.0,77.5 L317.5,77.9 L317.9,78.2 L318.5,78.5 L319.0,78.7 L319.5,79.0 L320.1,79.3 L320.7,79.5 L321.4,79.7 L322.0,79.9 L322.7,80.1 L323.4,80.3 L324.0,80.6 L324.7,80.9 L325.4,81.1 L326.1,81.4 L326.7,81.8 L327.4,82.1 L328.0,82.4 L328.6,82.8 L329.1,83.2 L329.6,83.6 L330.1,84.0 L330.6,84.4 L331.1,84.8 L331.6,85.2 L332.1,85.6 L332.6,86.1 L333.1,86.5 L333.7,86.9 L334.2,87.3 L334.8,87.7 L335.4,88.1 L336.1,88.5 L336.7,89.0 L337.4,89.4 L338.1,89.7 L338.8,90.1 L339.6,90.4 L340.3,90.8 L341.1,91.1 L341.9,91.4 L342.8,91.8 L344.4,92.3 L346.1,92.8 L347.9,93.3 L349.8,93.9 L351.8,94.4 L353.9,94.9 L356.2,95.4 L358.7,96.0 L361.3,96.5 L361.9,96.5" fill="none" stroke="#e00000" stroke-width="0.75" stroke-linejoin="round"/>
<path d="M136.5,131.9 H361.85" stroke="#000" stroke-width="1.5"/>
<path d="M30.2,253.9 H801.7 M85.89,253.9 v-13.0 M195.91,253.9 v-13.0 M305.93,253.9 v-13.0 M415.95,253.9 v-13.0 M525.97,253.9 v-13.0 M635.99,253.9 v-13.0 M746.01,253.9 v-13.0 M30.88,253.9 v-6.7 M58.38,253.9 v-6.7 M113.39,253.9 v-6.7 M140.90,253.9 v-6.7 M168.41,253.9 v-6.7 M223.41,253.9 v-6.7 M250.92,253.9 v-6.7 M278.42,253.9 v-6.7 M333.44,253.9 v-6.7 M360.94,253.9 v-6.7 M388.44,253.9 v-6.7 M443.45,253.9 v-6.7 M470.96,253.9 v-6.7 M498.46,253.9 v-6.7 M553.48,253.9 v-6.7 M580.98,253.9 v-6.7 M608.49,253.9 v-6.7 M663.50,253.9 v-6.7 M691.00,253.9 v-6.7 M718.50,253.9 v-6.7 M773.51,253.9 v-6.7 M801.02,253.9 v-6.7" stroke="#000" stroke-width="1.5" fill="none"/>
<path d="M30.3,523.5 L32.1,522.7 L33.9,521.9 L35.7,521.1 L37.5,520.3 L39.2,519.4 L41.0,518.6 L42.7,517.7 L44.5,516.8 L46.2,515.9 L48.0,515.0 L49.6,514.1 L51.2,513.3 L52.6,512.6 L53.9,512.0 L55.2,511.3 L56.5,510.7 L57.8,510.1 L59.0,509.4 L60.2,508.7 L61.4,508.0 L62.5,507.3 L63.7,506.5 L64.8,505.8 L66.0,505.0 L67.2,504.2 L68.4,503.3 L69.6,502.5 L70.8,501.6 L71.9,500.6 L73.1,499.6 L74.4,498.3 L75.8,496.8 L77.1,495.3 L78.4,493.7 L79.7,492.1 L81.0,490.5 L82.4,488.7 L83.8,486.9 L85.1,485.0 L86.5,483.2 L87.7,481.4 L88.8,479.7 L89.4,478.6 L90.0,477.6 L90.5,476.6 L91.0,475.6 L91.5,474.6 L92.0,473.5 L92.5,472.3 L93.1,471.0 L93.6,469.7 L94.1,468.4 L94.5,467.0 L95.0,465.6 L95.6,463.7 L96.1,461.7 L96.6,459.6 L97.1,457.4 L97.6,455.2 L98.1,453.0 L98.6,450.7 L99.2,448.3 L99.7,445.9 L100.2,443.4 L100.7,441.0 L101.2,438.5 L101.8,435.9 L102.3,433.1 L102.9,430.3 L103.4,427.6 L103.9,425.1 L104.4,423.0 L104.7,421.8 L104.9,420.8 L105.2,419.8 L105.4,418.8 L105.6,418.0 L105.9,417.2 L106.1,416.6 L106.3,416.1 L106.5,415.6 L106.7,415.1 L106.9,414.7 L107.1,414.4 L107.2,414.2 L107.4,414.1 L107.5,413.9 L107.7,413.8 L107.8,413.7 L108.0,413.7 L108.2,413.7 L108.3,413.8 L108.5,413.9 L108.6,414.1 L108.8,414.2 L108.9,414.4 L109.1,414.7 L109.3,415.1 L109.5,415.6 L109.7,416.1 L109.9,416.6 L110.1,417.2 L110.4,418.2 L110.8,419.3 L111.1,420.4 L111.5,421.7 L111.8,423.0 L112.2,424.3 L112.7,426.1 L113.2,427.9 L113.7,429.8 L114.2,431.7 L114.8,433.6 L115.3,435.5 L115.8,437.2 L116.3,438.9 L116.8,440.6 L117.3,442.2 L117.8,443.8 L118.4,445.3 L118.9,446.5 L119.4,447.7 L119.9,448.8 L120.5,449.9 L121.0,450.8 L121.6,451.6 L122.0,452.0 L122.3,452.5 L122.7,452.8 L123.1,453.1 L123.5,453.3 L123.9,453.4 L124.3,453.4 L124.7,453.2 L125.1,452.9 L125.5,452.6 L125.9,452.3 L126.2,451.9 L126.8,451.2 L127.3,450.4 L127.9,449.5 L128.4,448.5 L128.9,447.5 L129.4,446.5 L130.0,445.3 L130.5,444.0 L131.0,442.6 L131.5,441.2 L132.0,439.9 L132.5,438.7 L132.9,437.7 L133.3,436.7 L133.6,435.8 L134.0,434.9 L134.4,434.1 L134.8,433.5 L135.1,433.2 L135.3,432.9 L135.6,432.6 L135.9,432.4 L136.1,432.3 L136.4,432.3 L136.7,432.4 L137.1,432.7 L137.4,433.1 L137.7,433.6 L138.0,434.1 L138.3,434.7 L138.7,435.6 L139.1,436.8 L139.4,438.0 L139.7,439.4 L140.0,440.8 L140.3,442.3 L140.7,444.4 L141.1,446.7 L141.5,449.2 L141.9,451.8 L142.3,454.4 L142.7,457.2 L143.2,460.7 L143.6,464.4 L144.1,468.3 L144.5,472.2 L144.9,476.1 L145.4,479.9 L145.9,483.5 L146.3,487.0 L146.8,490.6 L147.2,494.1 L147.7,497.5 L148.2,501.0 L148.7,504.3 L149.2,507.6 L149.7,510.8 L150.2,514.1 L150.7,517.3 L151.2,520.5 L151.7,523.6 L152.2,526.7 L152.8,529.7 L153.3,532.7 L153.9,535.7 L154.5,538.5 L155.0,540.9 L155.6,543.2 L156.2,545.5 L156.8,547.7 L157.4,549.8 L158.0,552.0 L158.6,554.0 L159.2,555.9 L159.9,557.8 L160.6,559.7 L161.3,561.6 L162.0,563.5 L162.8,565.5 L163.7,567.6 L164.6,569.7 L165.6,571.7 L166.5,573.7 L167.4,575.5 L168.1,576.8 L168.8,578.1 L169.4,579.3 L170.1,580.5 L170.8,581.7 L171.6,583.0 L172.6,584.7 L173.6,586.5 L174.7,588.4 L175.7,590.3 L176.9,592.2 L178.0,594.0 L179.1,595.7 L180.3,597.5 L181.5,599.1 L182.8,600.8 L184.0,602.5 L185.2,604.1 L186.3,605.6 L187.5,607.1 L188.6,608.6 L189.7,610.1 L190.9,611.5 L192.0,613.0 L193.2,614.5 L194.3,616.1 L195.5,617.6 L196.7,619.1 L197.8,620.5 L198.9,621.8 L199.7,622.7 L200.5,623.5 L201.2,624.3 L202.0,625.1 L202.7,625.7 L203.5,626.3 L204.1,626.7 L204.7,627.2 L205.3,627.5 L206.0,627.8 L206.6,628.0 L207.2,628.1 L207.8,628.0 L208.5,627.8 L209.1,627.5 L209.7,627.1 L210.4,626.6 L211.0,626.2 L211.8,625.6 L212.5,625.0 L213.3,624.2 L214.0,623.5 L214.8,622.7 L215.6,621.8 L216.6,620.6 L217.7,619.4 L218.8,618.1 L219.8,616.7 L220.9,615.3 L222.0,614.0 L223.1,612.7 L224.1,611.4 L225.2,610.1 L226.3,608.7 L227.3,607.4 L228.4,606.0 L229.5,604.5 L230.6,603.0 L231.7,601.5 L232.8,599.9 L233.9,598.4 L235.0,596.8 L236.2,595.1 L237.4,593.4 L238.6,591.7 L239.9,589.9 L241.0,588.2 L242.2,586.4 L243.3,584.6 L244.4,582.8 L245.5,581.1 L246.5,579.2 L247.5,577.4 L248.5,575.5 L249.5,573.5 L250.5,571.4 L251.4,569.2 L252.3,567.1 L253.2,565.0 L254.0,562.9 L254.7,561.1 L255.4,559.3 L256.1,557.6 L256.8,555.9 L257.4,554.2 L258.0,552.5 L258.5,551.0 L259.1,549.5 L259.6,548.1 L260.1,546.7 L260.5,545.1 L261.0,543.5 L261.6,541.2 L262.1,538.8 L262.6,536.3 L263.1,533.7 L263.5,531.1 L264.0,528.5 L264.4,525.9 L264.9,523.3 L265.3,520.8 L265.7,518.1 L266.1,515.4 L266.5,512.5 L267.1,508.5 L267.7,504.1 L268.3,499.6 L268.9,495.1 L269.5,490.7 L270.1,486.4 L270.6,482.9 L271.1,479.3 L271.5,475.7 L272.0,472.4 L272.5,469.2 L272.9,466.4 L273.2,464.8 L273.5,463.2 L273.7,461.7 L274.0,460.3 L274.3,459.1 L274.6,457.9 L274.8,457.2 L275.0,456.6 L275.2,456.0 L275.4,455.4 L275.6,454.9 L275.8,454.5 L275.9,454.3 L276.1,454.0 L276.2,453.8 L276.4,453.7 L276.5,453.5 L276.7,453.5 L276.9,453.5 L277.0,453.7 L277.2,453.8 L277.3,454.0 L277.5,454.3 L277.6,454.5 L277.8,454.9 L278.1,455.5 L278.3,456.1 L278.5,456.7 L278.8,457.4 L279.0,458.2 L279.4,459.4 L279.7,460.8 L280.1,462.3 L280.5,463.8 L280.8,465.5 L281.2,467.2 L281.7,469.9 L282.2,472.7 L282.8,475.8 L283.3,478.9 L283.9,481.9 L284.5,484.8 L285.1,487.3 L285.7,489.7 L286.4,492.1 L287.1,494.4 L287.8,496.6 L288.5,498.7 L289.1,500.4 L289.7,502.0 L290.3,503.5 L291.0,505.0 L291.7,506.4 L292.4,507.6 L293.0,508.4 L293.6,509.2 L294.2,509.9 L294.9,510.6 L295.6,511.2 L296.3,511.8 L297.1,512.4 L297.9,512.9 L298.7,513.4 L299.5,513.9 L300.4,514.4 L301.2,515.0 L302.1,515.7 L302.9,516.3 L303.8,517.1 L304.6,517.8 L305.4,518.6 L306.2,519.4 L306.9,520.3 L307.6,521.2 L308.2,522.2 L308.8,523.2 L309.5,524.2 L310.1,525.2 L310.7,526.2 L311.4,527.2 L312.0,528.2 L312.6,529.1 L313.3,530.1 L314.0,531.1 L314.8,532.1 L315.5,533.1 L316.3,534.1 L317.2,535.1 L318.0,536.1 L318.9,537.0 L319.8,537.9 L320.7,538.7 L321.6,539.5 L322.6,540.3 L323.6,541.1 L324.8,541.9 L326.7,543.1 L328.8,544.4 L331.1,545.7 L333.5,547.0 L336.1,548.2 L338.6,549.4 L341.6,550.7 L344.7,552.0 L348.0,553.3 L351.3,554.5 L354.7,555.6 L358.2,556.7 L362.2,557.8 L366.4,558.8 L370.8,559.8 L375.1,560.7 L379.5,561.6 L383.8,562.6 L383.8,639.1 L30.3,639.1 Z" fill="#bfbfff"/>
<path d="M30.3,523.5 L32.1,522.7 L33.9,521.9 L35.7,521.1 L37.5,520.3 L39.2,519.4 L41.0,518.6 L42.7,517.7 L44.5,516.8 L46.2,515.9 L48.0,515.0 L49.6,514.1 L51.2,513.3 L52.6,512.6 L53.9,512.0 L55.2,511.3 L56.5,510.7 L57.8,510.1 L59.0,509.4 L60.2,508.7 L61.4,508.0 L62.5,507.3 L63.7,506.5 L64.8,505.8 L66.0,505.0 L67.2,504.2 L68.4,503.3 L69.6,502.5 L70.8,501.6 L71.9,500.6 L73.1,499.6 L74.4,498.3 L75.8,496.8 L77.1,495.3 L78.4,493.7 L79.7,492.1 L81.0,490.5 L82.4,488.7 L83.8,486.9 L85.1,485.0 L86.5,483.2 L87.7,481.4 L88.8,479.7 L89.4,478.6 L90.0,477.6 L90.5,476.6 L91.0,475.6 L91.5,474.6 L92.0,473.5 L92.5,472.3 L93.1,471.0 L93.6,469.7 L94.1,468.4 L94.5,467.0 L95.0,465.6 L95.6,463.7 L96.1,461.7 L96.6,459.6 L97.1,457.4 L97.6,455.2 L98.1,453.0 L98.6,450.7 L99.2,448.3 L99.7,445.9 L100.2,443.4 L100.7,441.0 L101.2,438.5 L101.8,435.9 L102.3,433.1 L102.9,430.3 L103.4,427.6 L103.9,425.1 L104.4,423.0 L104.7,421.8 L104.9,420.8 L105.2,419.8 L105.4,418.8 L105.6,418.0 L105.9,417.2 L106.1,416.6 L106.3,416.1 L106.5,415.6 L106.7,415.1 L106.9,414.7 L107.1,414.4 L107.2,414.2 L107.4,414.1 L107.5,413.9 L107.7,413.8 L107.8,413.7 L108.0,413.7 L108.2,413.7 L108.3,413.8 L108.5,413.9 L108.6,414.1 L108.8,414.2 L108.9,414.4 L109.1,414.7 L109.3,415.1 L109.5,415.6 L109.7,416.1 L109.9,416.6 L110.1,417.2 L110.4,418.2 L110.8,419.3 L111.1,420.4 L111.5,421.7 L111.8,423.0 L112.2,424.3 L112.7,426.1 L113.2,427.9 L113.7,429.8 L114.2,431.7 L114.8,433.6 L115.3,435.5 L115.8,437.2 L116.3,438.9 L116.8,440.6 L117.3,442.2 L117.8,443.8 L118.4,445.3 L118.9,446.5 L119.4,447.7 L119.9,448.8 L120.5,449.9 L121.0,450.8 L121.6,451.6 L122.0,452.0 L122.3,452.5 L122.7,452.8 L123.1,453.1 L123.5,453.3 L123.9,453.4 L124.3,453.4 L124.7,453.2 L125.1,452.9 L125.5,452.6 L125.9,452.3 L126.2,451.9 L126.8,451.2 L127.3,450.4 L127.9,449.5 L128.4,448.5 L128.9,447.5 L129.4,446.5 L130.0,445.3 L130.5,444.0 L131.0,442.6 L131.5,441.2 L132.0,439.9 L132.5,438.7 L132.9,437.7 L133.3,436.7 L133.6,435.8 L134.0,434.9 L134.4,434.1 L134.8,433.5 L135.1,433.2 L135.3,432.9 L135.6,432.6 L135.9,432.4 L136.1,432.3 L136.4,432.3 L136.7,432.4 L137.1,432.7 L137.4,433.1 L137.7,433.6 L138.0,434.1 L138.3,434.7 L138.7,435.6 L139.1,436.8 L139.4,438.0 L139.7,439.4 L140.0,440.8 L140.3,442.3 L140.7,444.4 L141.1,446.7 L141.5,449.2 L141.9,451.8 L142.3,454.4 L142.7,457.2 L143.2,460.7 L143.6,464.4 L144.1,468.3 L144.5,472.2 L144.9,476.1 L145.4,479.9 L145.9,483.5 L146.3,487.0 L146.8,490.6 L147.2,494.1 L147.7,497.5 L148.2,501.0 L148.7,504.3 L149.2,507.6 L149.7,510.8 L150.2,514.1 L150.7,517.3 L151.2,520.5 L151.7,523.6 L152.2,526.7 L152.8,529.7 L153.3,532.7 L153.9,535.7 L154.5,538.5 L155.0,540.9 L155.6,543.2 L156.2,545.5 L156.8,547.7 L157.4,549.8 L158.0,552.0 L158.6,554.0 L159.2,555.9 L159.9,557.8 L160.6,559.7 L161.3,561.6 L162.0,563.5 L162.8,565.5 L163.7,567.6 L164.6,569.7 L165.6,571.7 L166.5,573.7 L167.4,575.5 L168.1,576.8 L168.8,578.1 L169.4,579.3 L170.1,580.5 L170.8,581.7 L171.6,583.0 L172.6,584.7 L173.6,586.5 L174.7,588.4 L175.7,590.3 L176.9,592.2 L178.0,594.0 L179.1,595.7 L180.3,597.5 L181.5,599.1 L182.8,600.8 L184.0,602.5 L185.2,604.1 L186.3,605.6 L187.5,607.1 L188.6,608.6 L189.7,610.1 L190.9,611.5 L192.0,613.0 L193.2,614.5 L194.3,616.1 L195.5,617.6 L196.7,619.1 L197.8,620.5 L198.9,621.8 L199.7,622.7 L200.5,623.5 L201.2,624.3 L202.0,625.1 L202.7,625.7 L203.5,626.3 L204.1,626.7 L204.7,627.2 L205.3,627.5 L206.0,627.8 L206.6,628.0 L207.2,628.1 L207.8,628.0 L208.5,627.8 L209.1,627.5 L209.7,627.1 L210.4,626.6 L211.0,626.2 L211.8,625.6 L212.5,625.0 L213.3,624.2 L214.0,623.5 L214.8,622.7 L215.6,621.8 L216.6,620.6 L217.7,619.4 L218.8,618.1 L219.8,616.7 L220.9,615.3 L222.0,614.0 L223.1,612.7 L224.1,611.4 L225.2,610.1 L226.3,608.7 L227.3,607.4 L228.4,606.0 L229.5,604.5 L230.6,603.0 L231.7,601.5 L232.8,599.9 L233.9,598.4 L235.0,596.8 L236.2,595.1 L237.4,593.4 L238.6,591.7 L239.9,589.9 L241.0,588.2 L242.2,586.4 L243.3,584.6 L244.4,582.8 L245.5,581.1 L246.5,579.2 L247.5,577.4 L248.5,575.5 L249.5,573.5 L250.5,571.4 L251.4,569.2 L252.3,567.1 L253.2,565.0 L254.0,562.9 L254.7,561.1 L255.4,559.3 L256.1,557.6 L256.8,555.9 L257.4,554.2 L258.0,552.5 L258.5,551.0 L259.1,549.5 L259.6,548.1 L260.1,546.7 L260.5,545.1 L261.0,543.5 L261.6,541.2 L262.1,538.8 L262.6,536.3 L263.1,533.7 L263.5,531.1 L264.0,528.5 L264.4,525.9 L264.9,523.3 L265.3,520.8 L265.7,518.1 L266.1,515.4 L266.5,512.5 L267.1,508.5 L267.7,504.1 L268.3,499.6 L268.9,495.1 L269.5,490.7 L270.1,486.4 L270.6,482.9 L271.1,479.3 L271.5,475.7 L272.0,472.4 L272.5,469.2 L272.9,466.4 L273.2,464.8 L273.5,463.2 L273.7,461.7 L274.0,460.3 L274.3,459.1 L274.6,457.9 L274.8,457.2 L275.0,456.6 L275.2,456.0 L275.4,455.4 L275.6,454.9 L275.8,454.5 L275.9,454.3 L276.1,454.0 L276.2,453.8 L276.4,453.7 L276.5,453.5 L276.7,453.5 L276.9,453.5 L277.0,453.7 L277.2,453.8 L277.3,454.0 L277.5,454.3 L277.6,454.5 L277.8,454.9 L278.1,455.5 L278.3,456.1 L278.5,456.7 L278.8,457.4 L279.0,458.2 L279.4,459.4 L279.7,460.8 L280.1,462.3 L280.5,463.8 L280.8,465.5 L281.2,467.2 L281.7,469.9 L282.2,472.7 L282.8,475.8 L283.3,478.9 L283.9,481.9 L284.5,484.8 L285.1,487.3 L285.7,489.7 L286.4,492.1 L287.1,494.4 L287.8,496.6 L288.5,498.7 L289.1,500.4 L289.7,502.0 L290.3,503.5 L291.0,505.0 L291.7,506.4 L292.4,507.6 L293.0,508.4 L293.6,509.2 L294.2,509.9 L294.9,510.6 L295.6,511.2 L296.3,511.8 L297.1,512.4 L297.9,512.9 L298.7,513.4 L299.5,513.9 L300.4,514.4 L301.2,515.0 L302.1,515.7 L302.9,516.3 L303.8,517.1 L304.6,517.8 L305.4,518.6 L306.2,519.4 L306.9,520.3 L307.6,521.2 L308.2,522.2 L308.8,523.2 L309.5,524.2 L310.1,525.2 L310.7,526.2 L311.4,527.2 L312.0,528.2 L312.6,529.1 L313.3,530.1 L314.0,531.1 L314.8,532.1 L315.5,533.1 L316.3,534.1 L317.2,535.1 L318.0,536.1 L318.9,537.0 L319.8,537.9 L320.7,538.7 L321.6,539.5 L322.6,540.3 L323.6,541.1 L324.8,541.9 L326.7,543.1 L328.8,544.4 L331.1,545.7 L333.5,547.0 L336.1,548.2 L338.6,549.4 L341.6,550.7 L344.7,552.0 L348.0,553.3 L351.3,554.5 L354.7,555.6 L358.2,556.7 L362.2,557.8 L366.4,558.8 L370.8,559.8 L375.1,560.7 L379.5,561.6 L383.8,562.6" fill="none" stroke="#000" stroke-width="1.25"/>
<path d="M30.3,523.5 L33.9,521.7 L37.7,519.8 L41.4,517.9 L45.0,516.1 L48.4,514.5 L51.2,513.0 L52.7,512.3 L54.0,511.6 L55.2,511.0 L56.4,510.5 L57.6,509.8 L59.0,509.0 L61.2,507.7 L63.5,506.2 L66.0,504.5 L68.5,502.8 L70.9,500.9 L73.1,499.0 L75.1,497.0 L77.1,495.0 L78.9,492.9 L80.7,490.6 L82.4,488.3 L84.0,486.0 L85.5,483.5 L86.9,480.9 L88.2,478.1 L89.5,475.4 L90.7,472.7 L92.0,470.0 L93.2,467.4 L94.4,464.8 L95.5,462.3 L96.7,459.7 L97.8,457.3 L99.0,455.0 L100.0,453.1 L100.9,451.3 L101.8,449.5 L102.8,447.8 L103.9,446.3 L105.0,445.0 L106.0,444.1 L107.0,443.3 L108.1,442.6 L109.2,442.1 L110.3,441.6 L111.4,441.4 L112.5,441.3 L113.6,441.5 L114.7,441.7 L115.8,442.1 L116.9,442.5 L118.0,443.0 L119.4,443.7 L120.7,444.6 L122.1,445.6 L123.4,446.7 L124.7,447.8 L126.0,449.0 L127.3,450.3 L128.5,451.7 L129.7,453.2 L130.8,454.7 L131.9,456.3 L133.0,458.0 L134.1,460.1 L135.2,462.3 L136.2,464.6 L137.2,467.0 L138.1,469.5 L139.0,472.0 L139.9,474.9 L140.8,477.9 L141.5,480.9 L142.3,484.0 L143.1,487.0 L144.0,490.0 L144.9,492.7 L145.9,495.2 L146.9,497.7 L147.9,500.2 L148.9,503.0 L149.8,506.0 L151.0,510.9 L152.1,516.3 L153.2,522.1 L154.3,528.0 L155.4,533.8 L156.7,539.3 L158.0,544.1 L159.3,548.8 L160.6,553.4 L162.1,557.9 L163.7,562.4 L165.5,566.8 L167.5,571.2 L169.7,575.7 L172.0,580.0 L174.4,584.3 L176.8,588.4 L179.3,592.3 L181.5,595.6 L183.7,598.8 L185.9,601.9 L188.2,604.8 L190.5,607.5 L193.0,610.0 L195.2,612.1 L197.6,614.2 L200.0,616.2 L202.4,617.8 L204.8,619.0 L207.2,619.4 L209.5,619.1 L211.7,618.1 L214.0,616.6 L216.2,614.8 L218.4,612.9 L220.5,611.0 L222.9,608.7 L225.3,606.1 L227.6,603.3 L229.9,600.4 L232.1,597.3 L234.3,594.3 L236.7,590.9 L239.1,587.4 L241.5,583.9 L243.8,580.2 L246.0,576.5 L248.0,572.7 L249.9,568.9 L251.7,565.1 L253.4,561.2 L254.9,557.2 L256.4,553.2 L257.9,549.0 L259.4,544.2 L260.8,539.2 L262.1,534.1 L263.3,529.0 L264.5,524.1 L265.7,519.6 L266.6,516.3 L267.5,513.2 L268.3,510.2 L269.2,507.3 L270.1,504.6 L271.0,502.0 L271.8,500.1 L272.5,498.2 L273.3,496.4 L274.1,494.8 L275.0,493.3 L276.0,492.0 L276.8,491.1 L277.6,490.3 L278.5,489.6 L279.4,489.0 L280.3,488.6 L281.2,488.5 L282.2,488.7 L283.2,489.2 L284.1,490.0 L285.1,491.0 L286.1,492.0 L287.0,493.0 L288.1,494.4 L289.1,496.0 L290.0,497.7 L291.0,499.5 L292.0,501.3 L293.0,503.0 L294.1,504.7 L295.2,506.4 L296.4,508.0 L297.6,509.7 L298.8,511.3 L300.0,513.0 L301.3,514.7 L302.6,516.4 L303.9,518.1 L305.3,519.7 L306.6,521.4 L308.0,523.0 L309.3,524.5 L310.6,526.1 L312.0,527.6 L313.3,529.1 L314.6,530.6 L316.0,532.0 L317.3,533.4 L318.5,534.7 L319.8,536.1 L321.1,537.4 L322.5,538.7 L324.0,540.0 L326.1,541.6 L328.4,543.1 L330.8,544.7 L333.3,546.2 L335.9,547.6 L338.6,549.0 L341.6,550.4 L344.8,551.8 L348.0,553.0 L351.3,554.2 L354.7,555.4 L358.2,556.5 L362.2,557.7 L366.4,558.7 L370.8,559.7 L375.1,560.7 L379.5,561.6 L383.8,562.6" fill="none" stroke="#f00" stroke-width="2.4" stroke-dasharray="7,4"/>
<path d="M30.3,523.5 L32.1,522.7 L33.9,521.9 L35.7,521.1 L37.5,520.3 L39.2,519.4 L41.0,518.6 L42.7,517.7 L44.5,516.8 L46.2,515.9 L48.0,515.0 L49.6,514.1 L51.2,513.3 L52.6,512.6 L53.9,512.0 L55.2,511.3 L56.5,510.7 L57.8,510.1 L59.0,509.4 L60.2,508.7 L61.4,508.0 L62.5,507.3 L63.7,506.5 L64.8,505.8 L66.0,505.0 L67.2,504.2 L68.4,503.3 L69.6,502.5 L70.8,501.6 L71.9,500.6 L73.1,499.6 L74.4,498.3 L75.8,496.8 L77.1,495.3 L78.4,493.7 L79.7,492.1 L81.0,490.5 L82.4,488.7 L83.8,486.9 L85.1,485.0 L86.5,483.2 L87.7,481.4 L88.8,479.7 L89.4,478.6 L90.0,477.6 L90.5,476.6 L91.0,475.6 L91.5,474.6 L92.0,473.5 L92.5,472.3 L93.1,471.0 L93.6,469.7 L94.1,468.4 L94.5,467.0 L95.0,465.6 L95.6,463.7 L96.1,461.7 L96.6,459.6 L97.1,457.4 L97.6,455.3 L98.1,453.1 L98.6,450.8 L99.2,448.5 L99.7,446.1 L100.2,443.8 L100.7,441.4 L101.2,439.1 L101.8,436.8 L102.3,434.4 L102.9,432.0 L103.4,429.7 L103.9,427.6 L104.4,425.8 L104.7,424.9 L104.9,424.1 L105.2,423.3 L105.4,422.6 L105.6,422.0 L105.9,421.4 L106.1,421.0 L106.3,420.6 L106.5,420.2 L106.7,419.9 L106.9,419.6 L107.1,419.4 L107.2,419.3 L107.4,419.1 L107.5,419.0 L107.7,419.0 L107.8,418.9 L108.0,418.9 L108.2,418.9 L108.3,419.0 L108.5,419.0 L108.6,419.1 L108.8,419.3 L108.9,419.4 L109.1,419.6 L109.3,419.9 L109.5,420.2 L109.7,420.6 L109.9,421.0 L110.1,421.4 L110.4,422.1 L110.8,422.9 L111.1,423.7 L111.5,424.7 L111.8,425.6 L112.2,426.6 L112.7,428.0 L113.2,429.5 L113.7,431.1 L114.3,432.7 L114.8,434.3 L115.3,435.9 L115.8,437.5 L116.3,439.1 L116.8,440.7 L117.3,442.3 L117.8,443.9 L118.4,445.3 L118.9,446.5 L119.4,447.7 L119.9,448.8 L120.5,449.9 L121.0,450.8 L121.6,451.6 L122.0,452.0 L122.3,452.5 L122.7,452.8 L123.1,453.1 L123.5,453.3 L123.9,453.4 L124.3,453.4 L124.7,453.2 L125.1,452.9 L125.5,452.6 L125.9,452.3 L126.2,451.9 L126.8,451.3 L127.3,450.5 L127.9,449.6 L128.4,448.7 L128.9,447.8 L129.4,446.9 L129.9,445.9 L130.5,444.9 L131.0,443.8 L131.5,442.8 L132.0,441.8 L132.5,440.9 L132.9,440.3 L133.3,439.7 L133.6,439.1 L134.0,438.6 L134.4,438.1 L134.8,437.8 L135.1,437.6 L135.3,437.4 L135.6,437.3 L135.9,437.2 L136.1,437.2 L136.4,437.2 L136.7,437.3 L137.1,437.5 L137.4,437.7 L137.7,438.0 L138.0,438.4 L138.3,438.8 L138.7,439.4 L139.1,440.3 L139.4,441.2 L139.7,442.2 L140.0,443.3 L140.3,444.5 L140.7,446.3 L141.2,448.4 L141.6,450.6 L141.9,452.9 L142.3,455.3 L142.7,457.8 L143.2,461.2 L143.6,464.8 L144.1,468.6 L144.5,472.4 L144.9,476.3 L145.4,480.0 L145.9,483.5 L146.3,487.1 L146.8,490.6 L147.2,494.1 L147.7,497.6 L148.2,501.0 L148.7,504.3 L149.2,507.6 L149.7,510.8 L150.2,514.1 L150.7,517.3 L151.2,520.5 L151.7,523.6 L152.2,526.7 L152.8,529.7 L153.3,532.7 L153.9,535.7 L154.5,538.5 L155.0,540.9 L155.6,543.2 L156.2,545.5 L156.8,547.7 L157.4,549.8 L158.0,552.0 L158.6,554.0 L159.2,555.9 L159.9,557.8 L160.6,559.7 L161.3,561.6 L162.0,563.5 L162.8,565.5 L163.7,567.6 L164.6,569.7 L165.6,571.7 L166.5,573.7 L167.4,575.5 L168.1,576.8 L168.8,578.1 L169.4,579.3 L170.1,580.5 L170.8,581.7 L171.6,583.0 L172.6,584.7 L173.6,586.5 L174.7,588.4 L175.7,590.3 L176.9,592.2 L178.0,594.0 L179.1,595.7 L180.3,597.5 L181.5,599.1 L182.8,600.8 L184.0,602.5 L185.2,604.1 L186.3,605.6 L187.5,607.1 L188.6,608.6 L189.7,610.1 L190.9,611.5 L192.0,613.0 L193.2,614.5 L194.3,616.1 L195.5,617.6 L196.7,619.1 L197.8,620.5 L198.9,621.8 L199.7,622.7 L200.5,623.5 L201.2,624.3 L202.0,625.1 L202.7,625.7 L203.5,626.3 L204.1,626.7 L204.7,627.2 L205.3,627.5 L206.0,627.8 L206.6,628.0 L207.2,628.1 L207.8,628.0 L208.5,627.8 L209.1,627.5 L209.7,627.1 L210.4,626.6 L211.0,626.2 L211.8,625.6 L212.5,625.0 L213.3,624.2 L214.0,623.5 L214.8,622.7 L215.6,621.8 L216.6,620.6 L217.7,619.4 L218.8,618.1 L219.8,616.7 L220.9,615.3 L222.0,614.0 L223.1,612.7 L224.1,611.4 L225.2,610.1 L226.3,608.7 L227.3,607.4 L228.4,606.0 L229.5,604.5 L230.6,603.0 L231.7,601.5 L232.8,599.9 L233.9,598.4 L235.0,596.8 L236.2,595.1 L237.4,593.4 L238.6,591.7 L239.9,589.9 L241.0,588.2 L242.2,586.4 L243.3,584.6 L244.4,582.8 L245.5,581.1 L246.5,579.2 L247.5,577.4 L248.5,575.5 L249.5,573.5 L250.5,571.4 L251.4,569.2 L252.3,567.1 L253.2,565.0 L254.0,562.9 L254.7,561.1 L255.4,559.3 L256.1,557.6 L256.8,555.9 L257.4,554.2 L258.0,552.5 L258.5,551.0 L259.1,549.5 L259.6,548.1 L260.1,546.7 L260.5,545.1 L261.0,543.5 L261.6,541.2 L262.1,538.8 L262.6,536.3 L263.1,533.7 L263.5,531.1 L264.0,528.5 L264.4,525.9 L264.9,523.3 L265.3,520.8 L265.7,518.1 L266.1,515.4 L266.5,512.5 L267.1,508.5 L267.7,504.3 L268.3,499.8 L268.9,495.4 L269.5,491.0 L270.1,487.0 L270.6,483.8 L271.0,480.5 L271.5,477.4 L272.0,474.4 L272.4,471.7 L272.9,469.3 L273.2,468.0 L273.5,466.8 L273.7,465.7 L274.0,464.7 L274.3,463.8 L274.6,463.0 L274.8,462.5 L275.0,462.1 L275.2,461.7 L275.4,461.3 L275.6,461.0 L275.8,460.7 L275.9,460.5 L276.1,460.4 L276.2,460.2 L276.4,460.1 L276.5,460.0 L276.7,460.0 L276.8,460.0 L277.0,460.1 L277.1,460.2 L277.3,460.4 L277.4,460.5 L277.6,460.7 L277.8,461.0 L278.1,461.3 L278.3,461.7 L278.5,462.1 L278.8,462.5 L279.0,463.0 L279.4,463.8 L279.7,464.7 L280.1,465.8 L280.5,466.9 L280.8,468.0 L281.2,469.3 L281.7,471.5 L282.3,474.0 L282.8,476.8 L283.3,479.6 L283.9,482.4 L284.5,485.0 L285.1,487.4 L285.7,489.8 L286.4,492.1 L287.1,494.4 L287.8,496.6 L288.5,498.7 L289.1,500.4 L289.7,502.0 L290.3,503.5 L291.0,505.0 L291.7,506.4 L292.4,507.6 L293.0,508.4 L293.6,509.2 L294.2,509.9 L294.9,510.6 L295.6,511.2 L296.3,511.8 L297.1,512.4 L297.9,512.9 L298.7,513.4 L299.5,513.9 L300.4,514.4 L301.2,515.0 L302.1,515.7 L302.9,516.3 L303.8,517.1 L304.6,517.8 L305.4,518.6 L306.2,519.4 L306.9,520.3 L307.6,521.2 L308.2,522.2 L308.8,523.2 L309.5,524.2 L310.1,525.2 L310.7,526.2 L311.4,527.2 L312.0,528.2 L312.6,529.1 L313.3,530.1 L314.0,531.1 L314.8,532.1 L315.5,533.1 L316.3,534.1 L317.2,535.1 L318.0,536.1 L318.9,537.0 L319.8,537.9 L320.7,538.7 L321.6,539.5 L322.6,540.3 L323.6,541.1 L324.8,541.9 L326.7,543.1 L328.8,544.4 L331.1,545.7 L333.5,547.0 L336.1,548.2 L338.6,549.4 L341.6,550.7 L344.7,552.0 L348.0,553.3 L351.3,554.5 L354.7,555.6 L358.2,556.7 L362.2,557.8 L366.4,558.8 L370.8,559.8 L375.1,560.7 L379.5,561.6 L383.8,562.6" fill="none" stroke="#00f" stroke-width="2.6" stroke-linejoin="round"/>
<path d="M30.25,639.1 H384.65 M31.00,639.1 v-13.1 M207.45,639.1 v-13.1 M383.90,639.1 v-13.1 M66.29,639.1 v-6.7 M101.58,639.1 v-6.7 M136.87,639.1 v-6.7 M172.16,639.1 v-6.7 M242.74,639.1 v-6.7 M278.03,639.1 v-6.7 M313.32,639.1 v-6.7 M348.61,639.1 v-6.7" stroke="#000" stroke-width="1.5" fill="none"/>
<path d="M472.5,637.0 L477.9,636.9 L483.4,636.8 L488.8,636.8 L494.3,636.7 L499.7,636.6 L505.0,636.5 L510.1,636.4 L515.3,636.3 L520.5,636.2 L525.5,636.0 L530.4,635.9 L535.0,635.8 L538.6,635.6 L542.1,635.5 L545.4,635.3 L548.7,635.1 L551.9,635.0 L555.0,634.8 L557.7,634.6 L560.3,634.5 L562.8,634.3 L565.3,634.1 L567.7,633.9 L570.0,633.8 L571.8,633.6 L573.6,633.5 L575.2,633.4 L576.9,633.3 L578.5,633.2 L580.0,633.0 L581.3,632.9 L582.5,632.7 L583.7,632.6 L584.8,632.4 L585.9,632.2 L587.0,632.0 L587.9,631.8 L588.7,631.6 L589.6,631.3 L590.4,631.1 L591.2,630.8 L592.0,630.6 L592.8,630.3 L593.7,630.1 L594.5,629.8 L595.4,629.6 L596.2,629.3 L597.0,629.1 L597.7,628.9 L598.4,628.8 L599.0,628.6 L599.7,628.4 L600.3,628.3 L601.0,628.2 L601.7,628.1 L602.3,628.0 L603.0,627.9 L603.7,627.9 L604.3,627.8 L605.0,627.8 L605.7,627.8 L606.3,627.8 L607.0,627.8 L607.7,627.9 L608.3,627.9 L609.0,627.9 L609.6,627.9 L610.3,627.9 L610.9,627.9 L611.6,627.8 L612.2,627.7 L612.7,627.6 L613.1,627.4 L613.5,627.2 L613.9,626.9 L614.3,626.7 L614.7,626.3 L615.0,626.0 L615.4,625.6 L615.7,625.1 L616.1,624.6 L616.4,624.1 L616.7,623.5 L617.1,622.9 L617.7,621.9 L618.3,620.7 L619.0,619.5 L619.7,618.1 L620.3,616.8 L620.9,615.4 L621.5,613.8 L622.1,612.2 L622.6,610.5 L623.1,608.8 L623.6,607.1 L624.1,605.3 L624.6,603.3 L625.0,601.2 L625.4,599.1 L625.8,596.9 L626.2,594.8 L626.6,592.6 L627.0,590.4 L627.5,588.1 L627.9,585.8 L628.3,583.5 L628.7,581.2 L629.1,579.0 L629.4,577.0 L629.6,575.1 L629.9,573.2 L630.1,571.3 L630.3,569.2 L630.6,567.0 L631.0,563.5 L631.5,559.6 L632.0,555.6 L632.6,551.4 L633.1,547.1 L633.7,542.9 L634.3,538.4 L635.0,533.8 L635.6,529.1 L636.3,524.5 L637.0,519.9 L637.6,515.4 L638.2,511.4 L638.8,507.4 L639.3,503.5 L639.9,499.6 L640.4,495.8 L641.0,492.0 L641.5,488.6 L642.0,485.2 L642.5,481.9 L643.0,478.7 L643.5,475.4 L644.0,472.1 L644.5,468.8 L645.0,465.4 L645.5,462.0 L646.0,458.7 L646.5,455.5 L647.0,452.5 L647.3,450.3 L647.6,448.3 L647.9,446.3 L648.2,444.4 L648.5,442.5 L648.9,440.7 L649.3,439.1 L649.6,437.6 L650.0,436.1 L650.4,434.7 L650.9,433.3 L651.3,431.9 L651.7,430.7 L652.1,429.4 L652.4,428.2 L652.9,427.1 L653.3,426.0 L653.8,425.0 L654.2,424.2 L654.7,423.5 L655.2,422.8 L655.7,422.2 L656.3,421.6 L656.8,421.1 L657.3,420.7 L657.7,420.3 L658.2,419.9 L658.7,419.6 L659.2,419.3 L659.7,419.1 L660.3,418.9 L660.9,418.7 L661.6,418.6 L662.2,418.6 L662.9,418.5 L663.6,418.5 L664.4,418.5 L665.2,418.7 L666.1,418.8 L666.9,419.0 L667.8,419.1 L668.6,419.1 L669.4,419.1 L670.2,419.0 L671.1,418.8 L671.9,418.6 L672.7,418.5 L673.5,418.3 L674.3,418.1 L675.1,417.9 L675.8,417.7 L676.6,417.5 L677.5,417.3 L678.4,417.1 L679.9,416.7 L681.5,416.3 L683.2,415.9 L685.0,415.4 L686.7,415.1 L688.2,414.8 L689.3,414.7 L690.3,414.5 L691.2,414.5 L692.2,414.4 L693.1,414.4 L694.1,414.4 L695.1,414.4 L696.0,414.5 L697.0,414.6 L698.0,414.7 L699.0,414.8 L700.0,414.8 L701.2,414.8 L702.5,414.7 L703.7,414.6 L705.0,414.5 L706.4,414.3 L707.8,414.2 L709.6,414.0 L711.4,413.9 L713.3,413.7 L715.3,413.5 L717.4,413.3 L719.6,413.2 L722.7,413.1 L726.0,413.0 L729.5,413.0 L733.0,413.0 L736.5,412.9 L740.0,412.9 L743.3,412.8 L746.7,412.8 L750.0,412.7 L753.3,412.7 L756.7,412.6 L760.0,412.6 L763.3,412.6 L766.7,412.5 L770.0,412.5 L773.3,412.5 L776.6,412.4 L780.0,412.4 L783.5,412.4 L786.9,412.3 L790.4,412.3 L793.9,412.3 L797.4,412.2 L800.9,412.2 L800.9,639.1 L472.5,639.1 Z" fill="#bfbfff"/>
<path d="M472.5,637.0 L477.9,636.9 L483.4,636.8 L488.8,636.8 L494.3,636.7 L499.7,636.6 L505.0,636.5 L510.1,636.4 L515.3,636.3 L520.5,636.2 L525.5,636.0 L530.4,635.9 L535.0,635.8 L538.6,635.6 L542.1,635.5 L545.4,635.3 L548.7,635.1 L551.9,635.0 L555.0,634.8 L557.7,634.6 L560.3,634.5 L562.8,634.3 L565.3,634.1 L567.7,633.9 L570.0,633.8 L571.8,633.6 L573.6,633.5 L575.2,633.4 L576.9,633.3 L578.5,633.2 L580.0,633.0 L581.3,632.9 L582.5,632.7 L583.7,632.6 L584.8,632.4 L585.9,632.2 L587.0,632.0 L587.9,631.8 L588.7,631.6 L589.6,631.3 L590.4,631.1 L591.2,630.8 L592.0,630.6 L592.8,630.3 L593.7,630.1 L594.5,629.8 L595.4,629.6 L596.2,629.3 L597.0,629.1 L597.7,628.9 L598.4,628.8 L599.0,628.6 L599.7,628.4 L600.3,628.3 L601.0,628.2 L601.7,628.1 L602.3,628.0 L603.0,627.9 L603.7,627.9 L604.3,627.8 L605.0,627.8 L605.7,627.8 L606.3,627.8 L607.0,627.8 L607.7,627.9 L608.3,627.9 L609.0,627.9 L609.6,627.9 L610.3,627.9 L610.9,627.9 L611.6,627.8 L612.2,627.7 L612.7,627.6 L613.1,627.4 L613.5,627.2 L613.9,626.9 L614.3,626.7 L614.7,626.3 L615.0,626.0 L615.4,625.6 L615.7,625.1 L616.1,624.6 L616.4,624.1 L616.7,623.5 L617.1,622.9 L617.7,621.9 L618.3,620.7 L619.0,619.5 L619.7,618.1 L620.3,616.8 L620.9,615.4 L621.5,613.8 L622.1,612.2 L622.6,610.5 L623.1,608.8 L623.6,607.1 L624.1,605.3 L624.6,603.3 L625.0,601.2 L625.4,599.1 L625.8,596.9 L626.2,594.8 L626.6,592.6 L627.0,590.4 L627.5,588.1 L627.9,585.8 L628.3,583.5 L628.7,581.2 L629.1,579.0 L629.4,577.0 L629.6,575.1 L629.9,573.2 L630.1,571.3 L630.3,569.2 L630.6,567.0 L631.0,563.5 L631.5,559.6 L632.0,555.6 L632.6,551.4 L633.1,547.1 L633.7,542.9 L634.3,538.4 L635.0,533.8 L635.6,529.1 L636.3,524.5 L637.0,519.9 L637.6,515.4 L638.2,511.4 L638.8,507.4 L639.3,503.5 L639.9,499.6 L640.4,495.8 L641.0,492.0 L641.5,488.6 L642.0,485.2 L642.5,481.9 L643.0,478.7 L643.5,475.4 L644.0,472.1 L644.5,468.8 L645.0,465.4 L645.5,462.0 L646.0,458.7 L646.5,455.5 L647.0,452.5 L647.3,450.3 L647.6,448.3 L647.9,446.3 L648.2,444.4 L648.5,442.5 L648.9,440.7 L649.3,439.1 L649.6,437.6 L650.0,436.1 L650.4,434.7 L650.9,433.3 L651.3,431.9 L651.7,430.7 L652.1,429.4 L652.4,428.2 L652.9,427.1 L653.3,426.0 L653.8,425.0 L654.2,424.2 L654.7,423.5 L655.2,422.8 L655.7,422.2 L656.3,421.6 L656.8,421.1 L657.3,420.7 L657.7,420.3 L658.2,419.9 L658.7,419.6 L659.2,419.3 L659.7,419.1 L660.3,418.9 L660.9,418.7 L661.6,418.6 L662.2,418.6 L662.9,418.5 L663.6,418.5 L664.4,418.5 L665.2,418.7 L666.1,418.8 L666.9,419.0 L667.8,419.1 L668.6,419.1 L669.4,419.1 L670.2,419.0 L671.1,418.8 L671.9,418.6 L672.7,418.5 L673.5,418.3 L674.3,418.1 L675.1,417.9 L675.8,417.7 L676.6,417.5 L677.5,417.3 L678.4,417.1 L679.9,416.7 L681.5,416.3 L683.2,415.9 L685.0,415.4 L686.7,415.1 L688.2,414.8 L689.3,414.7 L690.3,414.5 L691.2,414.5 L692.2,414.4 L693.1,414.4 L694.1,414.4 L695.1,414.4 L696.0,414.5 L697.0,414.6 L698.0,414.7 L699.0,414.8 L700.0,414.8 L701.2,414.8 L702.5,414.7 L703.7,414.6 L705.0,414.5 L706.4,414.3 L707.8,414.2 L709.6,414.0 L711.4,413.9 L713.3,413.7 L715.3,413.5 L717.4,413.3 L719.6,413.2 L722.7,413.1 L726.0,413.0 L729.5,413.0 L733.0,413.0 L736.5,412.9 L740.0,412.9 L743.3,412.8 L746.7,412.8 L750.0,412.7 L753.3,412.7 L756.7,412.6 L760.0,412.6 L763.3,412.6 L766.7,412.5 L770.0,412.5 L773.3,412.5 L776.6,412.4 L780.0,412.4 L783.5,412.4 L786.9,412.3 L790.4,412.3 L793.9,412.3 L797.4,412.2 L800.9,412.2" fill="none" stroke="#000" stroke-width="1.25"/>
<path d="M472.5,632.5 L477.9,632.1 L483.4,631.8 L488.8,631.4 L494.3,631.0 L499.7,630.6 L505.0,630.2 L510.1,629.8 L515.1,629.4 L520.1,629.0 L525.1,628.5 L530.0,628.0 L535.0,627.5 L540.1,626.9 L545.4,626.3 L550.7,625.6 L555.8,625.0 L560.6,624.2 L565.0,623.5 L567.8,623.0 L570.5,622.4 L573.0,621.8 L575.4,621.2 L577.7,620.6 L580.0,620.0 L581.8,619.5 L583.6,619.0 L585.2,618.4 L586.9,617.9 L588.5,617.3 L590.0,616.6 L591.4,616.0 L592.7,615.3 L593.9,614.6 L595.2,613.8 L596.4,613.0 L597.6,612.2 L598.9,611.3 L600.2,610.3 L601.5,609.2 L602.8,608.1 L604.0,607.0 L605.2,605.9 L606.3,604.8 L607.4,603.7 L608.5,602.5 L609.5,601.3 L610.5,600.1 L611.5,598.9 L612.4,597.7 L613.3,596.5 L614.1,595.3 L614.9,594.0 L615.7,592.7 L616.5,591.4 L617.4,589.9 L618.3,588.3 L619.1,586.6 L620.0,584.9 L620.8,583.2 L621.6,581.3 L622.5,578.9 L623.4,576.3 L624.3,573.7 L625.2,570.9 L626.0,568.1 L626.8,565.3 L627.7,562.1 L628.5,558.8 L629.4,555.4 L630.2,552.0 L630.9,548.6 L631.7,545.3 L632.4,542.3 L633.0,539.3 L633.7,536.4 L634.3,533.4 L634.9,530.4 L635.6,527.3 L636.4,523.8 L637.2,520.2 L638.0,516.6 L638.8,512.9 L639.6,509.2 L640.5,505.5 L641.4,501.6 L642.3,497.8 L643.3,493.8 L644.3,489.9 L645.3,486.0 L646.4,482.0 L647.6,477.7 L648.9,473.1 L650.3,468.6 L651.7,464.2 L653.2,460.0 L654.8,456.4 L656.0,454.1 L657.2,452.0 L658.5,450.0 L659.8,448.2 L661.2,446.4 L662.7,444.7 L664.2,443.0 L665.7,441.4 L667.3,439.9 L669.0,438.5 L670.7,437.1 L672.5,435.8 L674.3,434.6 L676.2,433.6 L678.1,432.6 L680.1,431.7 L682.2,430.8 L684.3,429.9 L686.7,429.0 L689.3,428.1 L691.9,427.2 L694.5,426.4 L697.2,425.7 L700.0,425.0 L703.0,424.3 L706.1,423.6 L709.2,423.0 L712.4,422.5 L715.9,422.0 L719.6,421.5 L725.5,420.9 L732.0,420.4 L738.9,419.9 L746.0,419.5 L753.1,419.2 L760.0,418.8 L766.8,418.5 L773.6,418.2 L780.4,417.9 L787.3,417.6 L794.1,417.4 L800.9,417.1" fill="none" stroke="#ff8000" stroke-width="2.6"/>
<path d="M472.5,640.0 L473.5,640.3 L474.6,640.7 L475.6,641.1 L476.7,641.5 L477.7,641.7 L478.8,641.8 L479.9,641.6 L481.0,641.2 L482.1,640.7 L483.2,640.1 L484.4,639.5 L485.5,639.0 L486.7,638.5 L487.8,637.9 L489.0,637.3 L490.2,636.7 L491.3,636.4 L492.5,636.2 L493.7,636.4 L494.8,636.9 L496.0,637.5 L497.2,638.2 L498.3,638.9 L499.5,639.5 L500.6,640.1 L501.8,640.8 L502.9,641.4 L504.0,642.0 L505.1,642.4 L506.2,642.5 L507.4,642.3 L508.5,641.8 L509.6,641.1 L510.7,640.4 L511.9,639.6 L513.0,639.0 L514.2,638.4 L515.3,637.6 L516.5,636.9 L517.6,636.3 L518.8,635.9 L520.0,635.8 L521.2,636.0 L522.5,636.5 L523.7,637.2 L525.0,638.0 L526.2,638.8 L527.5,639.5 L528.8,640.2 L530.0,641.0 L531.3,641.9 L532.5,642.6 L533.8,643.1 L535.0,643.2 L536.2,643.0 L537.4,642.4 L538.5,641.6 L539.7,640.7 L540.8,639.8 L542.0,639.0 L543.1,638.2 L544.3,637.3 L545.4,636.5 L546.5,635.7 L547.6,635.2 L548.8,635.0 L549.9,635.3 L551.1,636.0 L552.3,636.9 L553.5,638.0 L554.8,639.1 L556.0,640.0 L557.3,640.9 L558.6,641.9 L559.9,642.9 L561.2,643.8 L562.5,644.3 L563.8,644.5 L565.1,644.1 L566.4,643.3 L567.7,642.2 L568.9,640.9 L570.2,639.6 L571.5,638.5 L572.7,637.5 L573.9,636.3 L575.2,635.1 L576.4,634.1 L577.6,633.4 L578.8,633.2 L580.0,633.7 L581.2,634.7 L582.4,636.1 L583.6,637.6 L584.8,639.2 L586.0,640.5 L587.3,641.9 L588.6,643.4 L589.9,645.0 L591.2,646.3 L592.5,647.2 L593.8,647.5 L595.2,646.9 L596.7,645.4 L598.1,643.3 L599.5,641.1 L600.8,638.9 L602.0,637.0 L602.8,635.8 L603.5,634.6 L604.1,633.5 L604.7,632.4 L605.3,631.4 L606.0,630.5 L606.6,629.8 L607.1,629.1 L607.7,628.5 L608.3,628.0 L608.9,627.6 L609.5,627.5 L610.1,627.6 L610.6,628.0 L611.2,628.5 L611.8,629.1 L612.3,629.8 L612.8,630.5 L613.5,631.8 L614.1,633.4 L614.6,635.2 L615.0,637.1 L615.5,639.1 L616.0,641.0 L616.6,643.1 L617.1,645.4 L617.7,647.7 L618.2,650.0 L618.7,652.1 L619.2,654.0 L619.5,655.1 L619.8,656.2 L620.0,657.2 L620.3,658.1 L620.6,658.9 L620.9,659.6 L621.1,660.0 L621.3,660.4 L621.5,660.8 L621.8,661.1 L622.0,661.3 L622.2,661.4 L622.4,661.3 L622.6,661.2 L622.9,660.9 L623.1,660.6 L623.3,660.2 L623.5,659.9 L623.7,659.4 L624.0,658.8 L624.1,658.2 L624.3,657.5 L624.5,656.8 L624.7,656.0 L625.0,654.6 L625.3,653.0 L625.7,651.3 L626.0,649.5 L626.3,647.6 L626.6,645.7 L626.9,643.4 L627.3,640.9 L627.6,638.4 L627.9,635.8 L628.2,633.2 L628.5,630.5 L628.8,627.5 L629.2,624.4 L629.5,621.3 L629.8,618.1 L630.1,614.9 L630.4,611.6 L630.8,607.8 L631.1,603.8 L631.5,599.8 L631.9,595.7 L632.2,591.8 L632.5,588.0 L632.7,584.9 L632.9,582.0 L633.0,579.1 L633.2,576.2 L633.3,573.2 L633.5,570.0 L633.7,565.5 L633.9,560.7 L634.1,555.7 L634.3,550.5 L634.5,545.3 L634.8,540.0 L635.2,534.2 L635.6,528.4 L636.1,522.5 L636.6,516.4 L637.1,510.1 L637.6,503.6 L638.2,494.9 L638.9,485.6 L639.6,475.9 L640.2,466.3 L640.9,457.1 L641.5,448.6 L641.9,442.5 L642.3,436.6 L642.7,430.9 L643.1,425.5 L643.5,420.5 L644.0,416.0 L644.3,413.4 L644.6,411.0 L644.9,408.7 L645.3,406.6 L645.6,404.5 L646.0,402.4 L646.4,400.4 L646.7,398.4 L647.1,396.5 L647.6,394.6 L648.0,393.0 L648.6,391.5 L649.0,390.6 L649.4,389.7 L649.9,388.9 L650.4,388.2 L650.8,387.8 L651.3,387.6 L651.8,387.8 L652.2,388.2 L652.7,388.9 L653.1,389.7 L653.6,390.6 L654.0,391.5 L654.5,392.8 L655.0,394.4 L655.4,396.0 L655.8,397.8 L656.2,399.6 L656.8,401.4 L657.6,403.9 L658.5,406.6 L659.5,409.5 L660.5,412.1 L661.6,414.5 L662.7,416.2 L663.3,416.9 L664.0,417.6 L664.6,418.1 L665.3,418.5 L666.0,418.7 L666.6,418.7 L667.6,417.9 L668.5,416.2 L669.4,413.9 L670.3,411.5 L671.3,409.2 L672.5,407.3 L673.7,405.9 L675.0,404.4 L676.3,403.1 L677.7,402.0 L679.1,401.2 L680.4,401.0 L681.7,401.4 L683.1,402.5 L684.4,403.9 L685.7,405.5 L687.0,407.0 L688.2,408.3 L689.2,409.3 L690.2,410.4 L691.1,411.4 L692.1,412.3 L693.1,412.9 L694.1,413.2 L695.3,413.0 L696.6,412.3 L698.0,411.3 L699.3,410.2 L700.7,409.1 L702.0,408.3 L703.2,407.7 L704.3,407.0 L705.5,406.3 L706.6,405.8 L707.8,405.5 L708.9,405.4 L710.1,405.7 L711.3,406.3 L712.4,407.0 L713.6,407.9 L714.8,408.8 L716.0,409.5 L717.2,410.2 L718.5,410.9 L719.8,411.6 L721.1,412.2 L722.3,412.6 L723.6,412.8 L724.8,412.6 L726.1,412.2 L727.3,411.5 L728.5,410.8 L729.8,410.1 L731.0,409.5 L732.2,409.0 L733.4,408.4 L734.6,407.8 L735.8,407.4 L737.0,407.0 L738.3,406.9 L739.7,407.0 L741.2,407.4 L742.6,408.0 L744.1,408.7 L745.6,409.3 L747.0,409.8 L748.4,410.3 L749.7,410.8 L751.1,411.3 L752.4,411.7 L753.7,411.9 L755.0,412.0 L756.1,411.8 L757.1,411.5 L758.1,411.1 L759.0,410.6 L760.0,410.1 L761.0,409.7 L762.0,409.3 L762.9,408.9 L763.8,408.5 L764.8,408.1 L765.8,407.8 L766.8,407.7 L768.1,407.8 L769.4,408.1 L770.8,408.6 L772.2,409.1 L773.6,409.6 L775.0,410.0 L776.4,410.4 L777.8,410.8 L779.3,411.3 L780.7,411.6 L782.1,411.9 L783.5,412.0 L784.8,411.9 L786.0,411.7 L787.3,411.4 L788.5,411.0 L789.8,410.6 L791.0,410.3 L792.2,410.0 L793.5,409.7 L794.7,409.4 L795.9,409.1 L797.0,409.0 L798.0,408.9 L798.6,408.9 L799.1,409.0 L799.5,409.1 L800.0,409.3 L800.4,409.4 L800.9,409.5" fill="none" stroke="#f00" stroke-width="2.4" stroke-dasharray="7,4"/>
<path d="M472.5,638.3 L480.5,638.3 L488.5,638.3 L496.5,638.3 L504.5,638.3 L512.3,638.3 L520.0,638.3 L526.9,638.3 L533.8,638.3 L540.6,638.3 L547.2,638.2 L553.7,638.2 L560.0,638.2 L565.4,638.2 L570.9,638.2 L576.3,638.2 L581.4,638.1 L586.0,638.1 L590.0,638.0 L592.0,637.9 L593.9,637.9 L595.6,637.8 L597.1,637.8 L598.6,637.7 L600.0,637.5 L601.0,637.4 L601.9,637.2 L602.7,637.0 L603.5,636.8 L604.3,636.6 L605.0,636.4 L605.6,636.2 L606.1,636.0 L606.6,635.8 L607.1,635.5 L607.5,635.3 L608.0,635.0 L608.4,634.7 L608.9,634.4 L609.3,634.1 L609.7,633.8 L610.1,633.4 L610.5,633.0 L610.9,632.5 L611.4,632.0 L611.8,631.4 L612.2,630.8 L612.6,630.1 L613.0,629.5 L613.4,628.7 L613.9,627.9 L614.3,627.1 L614.7,626.3 L615.1,625.4 L615.5,624.5 L615.9,623.4 L616.4,622.3 L616.8,621.2 L617.2,620.0 L617.6,618.8 L618.0,617.5 L618.6,615.8 L619.1,613.9 L619.7,611.9 L620.3,610.0 L620.9,608.0 L621.5,606.0 L622.1,604.0 L622.6,602.1 L623.2,600.2 L623.8,598.2 L624.3,596.1 L624.8,594.0 L625.4,591.4 L625.9,588.6 L626.4,585.7 L626.9,582.8 L627.3,579.9 L627.8,577.0 L628.3,574.0 L628.8,570.8 L629.3,567.7 L629.7,564.6 L630.2,561.6 L630.7,558.6 L631.1,556.1 L631.5,553.6 L632.0,551.1 L632.4,548.7 L632.8,546.4 L633.2,544.0 L633.6,541.8 L634.0,539.8 L634.4,537.7 L634.8,535.6 L635.2,533.4 L635.6,531.0 L636.2,527.5 L636.7,523.6 L637.3,519.6 L637.9,515.5 L638.5,511.4 L639.1,507.5 L639.7,503.9 L640.2,500.3 L640.8,496.7 L641.4,493.1 L641.9,489.6 L642.5,486.0 L643.1,482.4 L643.6,478.7 L644.2,475.0 L644.8,471.3 L645.4,467.8 L646.0,464.3 L646.5,461.4 L647.1,458.5 L647.7,455.7 L648.2,452.9 L648.8,450.2 L649.4,447.5 L650.0,444.9 L650.5,442.4 L651.1,439.8 L651.7,437.3 L652.2,435.0 L652.9,432.8 L653.3,431.3 L653.8,429.8 L654.3,428.4 L654.8,427.1 L655.3,425.8 L655.8,424.5 L656.3,423.4 L656.7,422.2 L657.2,421.1 L657.7,420.1 L658.2,419.0 L658.7,418.1 L659.2,417.4 L659.7,416.7 L660.2,416.0 L660.7,415.4 L661.2,414.8 L661.7,414.2 L662.2,413.7 L662.6,413.2 L663.1,412.8 L663.6,412.4 L664.1,412.0 L664.6,411.6 L665.2,411.2 L665.9,410.9 L666.5,410.6 L667.2,410.4 L667.9,410.1 L668.6,409.9 L669.2,409.7 L669.8,409.6 L670.5,409.4 L671.1,409.3 L671.8,409.2 L672.5,409.1 L673.6,409.0 L674.9,408.9 L676.2,408.8 L677.6,408.8 L679.0,408.7 L680.3,408.7 L681.6,408.7 L682.7,408.7 L683.9,408.7 L685.2,408.7 L686.6,408.7 L688.2,408.7 L692.2,408.8 L697.0,408.8 L702.4,408.9 L708.1,409.1 L713.9,409.2 L719.6,409.3 L726.0,409.5 L732.7,409.6 L739.5,409.8 L746.3,410.0 L753.2,410.2 L760.0,410.3 L766.8,410.4 L773.6,410.5 L780.4,410.6 L787.3,410.7 L794.1,410.8 L800.9,410.9" fill="none" stroke="#00f" stroke-width="1.3" stroke-dasharray="7,4"/>
<path d="M471.75,639.1 H801.6 M472.50,639.1 v-13.1 M636.68,639.1 v-13.1 M800.85,639.1 v-13.1 M505.34,639.1 v-6.7 M538.17,639.1 v-6.7 M571.01,639.1 v-6.7 M603.84,639.1 v-6.7 M669.52,639.1 v-6.7 M702.35,639.1 v-6.7 M735.19,639.1 v-6.7 M768.02,639.1 v-6.7" stroke="#000" stroke-width="1.5" fill="none"/>
<path d="M69.70,279.10 h17.6" stroke="#000" stroke-width="1.5" fill="none"/>
<text x="87.8" y="286.7" font-size="27.2" textLength="15.1" lengthAdjust="spacingAndGlyphs" stroke="#000" stroke-width="0.2">6</text>
<path d="M179.70,279.10 h17.6" stroke="#000" stroke-width="1.5" fill="none"/>
<text x="197.8" y="286.7" font-size="27.2" textLength="15.1" lengthAdjust="spacingAndGlyphs" stroke="#000" stroke-width="0.2">4</text>
<path d="M289.85,279.10 h17.6" stroke="#000" stroke-width="1.5" fill="none"/>
<text x="307.95" y="286.7" font-size="27.2" textLength="15.1" lengthAdjust="spacingAndGlyphs" stroke="#000" stroke-width="0.2">2</text>
<text x="416" y="286.7" font-size="27.2" text-anchor="middle" textLength="14.8" lengthAdjust="spacingAndGlyphs" stroke="#000" stroke-width="0.2">0</text>
<text x="526" y="286.7" font-size="27.2" text-anchor="middle" textLength="14.8" lengthAdjust="spacingAndGlyphs" stroke="#000" stroke-width="0.2">2</text>
<text x="636" y="286.7" font-size="27.2" text-anchor="middle" textLength="14.8" lengthAdjust="spacingAndGlyphs" stroke="#000" stroke-width="0.2">4</text>
<text x="746" y="286.7" font-size="27.2" text-anchor="middle" textLength="14.8" lengthAdjust="spacingAndGlyphs" stroke="#000" stroke-width="0.2">6</text>
<path d="M3.80,664.20 h17.6" stroke="#000" stroke-width="1.5" fill="none"/>
<text x="21.9" y="671.8" font-size="27.2" textLength="36.4" lengthAdjust="spacingAndGlyphs" stroke="#000" stroke-width="0.2">0.5</text>
<text x="207.4" y="671.8" font-size="27.2" text-anchor="middle" textLength="14.8" lengthAdjust="spacingAndGlyphs" stroke="#000" stroke-width="0.2">0</text>
<text x="383.8" y="671.8" font-size="27.2" text-anchor="middle" textLength="36.7" lengthAdjust="spacingAndGlyphs" stroke="#000" stroke-width="0.2">0.5</text>
<path d="M456.95,664.20 h17.6" stroke="#000" stroke-width="1.5" fill="none"/>
<text x="475.05" y="671.8" font-size="27.2" textLength="15.1" lengthAdjust="spacingAndGlyphs" stroke="#000" stroke-width="0.2">2</text>
<path d="M610.00,664.20 h17.6" stroke="#000" stroke-width="1.5" fill="none"/>
<text x="628.1" y="671.8" font-size="27.2" textLength="35.6" lengthAdjust="spacingAndGlyphs" stroke="#000" stroke-width="0.2">1.8</text>
<path d="M775.00,664.20 h17.6" stroke="#000" stroke-width="1.5" fill="none"/>
<text x="793.1" y="671.8" font-size="27.2" textLength="35.6" lengthAdjust="spacingAndGlyphs" stroke="#000" stroke-width="0.2">1.6</text>
<text x="383.2" y="318.4" font-size="25.3" font-style="italic" textLength="15.2" lengthAdjust="spacingAndGlyphs" stroke="#000" stroke-width="0.2">E</text>
<path d="M401.4,323.4 L409.4,299.6" stroke="#000" stroke-width="1.5" fill="none"/>
<path d="M415.7,299.6 v24 M446.0,299.6 v24" stroke="#000" stroke-width="1.5" fill="none"/>
<text x="421.3" y="318.4" font-size="25.3" font-style="italic" textLength="7.9" lengthAdjust="spacingAndGlyphs" stroke="#000" stroke-width="0.2">t</text>
<text x="432.2" y="324.5" font-size="18" textLength="8.4" lengthAdjust="spacingAndGlyphs" stroke="#000" stroke-width="0.2">1</text>
<text x="174.5" y="703.4" font-size="25.3" font-style="italic" textLength="15.2" lengthAdjust="spacingAndGlyphs" stroke="#000" stroke-width="0.2">E</text>
<path d="M192.7,708.4 L200.7,684.6" stroke="#000" stroke-width="1.5" fill="none"/>
<path d="M207.0,684.6 v24 M237.3,684.6 v24" stroke="#000" stroke-width="1.5" fill="none"/>
<text x="212.6" y="703.4" font-size="25.3" font-style="italic" textLength="7.9" lengthAdjust="spacingAndGlyphs" stroke="#000" stroke-width="0.2">t</text>
<text x="223.5" y="709.5" font-size="18" textLength="8.4" lengthAdjust="spacingAndGlyphs" stroke="#000" stroke-width="0.2">1</text>
<text x="604" y="703.4" font-size="25.3" font-style="italic" textLength="15.2" lengthAdjust="spacingAndGlyphs" stroke="#000" stroke-width="0.2">E</text>
<path d="M622.2,708.4 L630.2,684.6" stroke="#000" stroke-width="1.5" fill="none"/>
<path d="M636.5,684.6 v24 M666.8,684.6 v24" stroke="#000" stroke-width="1.5" fill="none"/>
<text x="642.1" y="703.4" font-size="25.3" font-style="italic" textLength="7.9" lengthAdjust="spacingAndGlyphs" stroke="#000" stroke-width="0.2">t</text>
<text x="653.0" y="709.5" font-size="18" textLength="8.4" lengthAdjust="spacingAndGlyphs" stroke="#000" stroke-width="0.2">1</text>
<text x="38" y="22.2" font-size="24.3" textLength="31.8" lengthAdjust="spacingAndGlyphs" stroke="#000" stroke-width="0.2">(a)</text>
<text x="38.6" y="406.8" font-size="24.3" textLength="32.4" lengthAdjust="spacingAndGlyphs" stroke="#000" stroke-width="0.2">(b)</text>
<text x="456.5" y="406.8" font-size="24.3" textLength="30" lengthAdjust="spacingAndGlyphs" stroke="#000" stroke-width="0.2">(c)</text>
<path d="M164.9,375.8 H197.1" stroke="#000" stroke-width="1.25" fill="none"/>
<text x="203.8" y="381.0" font-size="21.4" fill="#000" stroke="#000" stroke-width="0.2" font-style="italic" textLength="18.2" lengthAdjust="spacingAndGlyphs">M</text>
<text x="228.2" y="381.0" font-size="21.4" fill="#000" stroke="#000" stroke-width="0.2" textLength="15.8" lengthAdjust="spacingAndGlyphs">=</text>
<text x="249.6" y="381.0" font-size="21.4" fill="#000" stroke="#000" stroke-width="0.2" textLength="34" lengthAdjust="spacingAndGlyphs">350</text>
<text x="285.6" y="381.0" font-size="21.4" fill="#000" stroke="#000" stroke-width="0.2" textLength="5.2" lengthAdjust="spacingAndGlyphs">,</text>
<text x="295.8" y="381.0" font-size="21.4" fill="#000" stroke="#000" stroke-width="0.2" font-style="italic" textLength="14.6" lengthAdjust="spacingAndGlyphs">N</text>
<text x="317.7" y="381.0" font-size="21.4" fill="#000" stroke="#000" stroke-width="0.2" textLength="15.8" lengthAdjust="spacingAndGlyphs">=</text>
<text x="338.9" y="381.0" font-size="21.4" fill="#000" stroke="#000" stroke-width="0.2" textLength="11.2" lengthAdjust="spacingAndGlyphs">4</text>
<text x="351.6" y="381.0" font-size="21.4" fill="#000" stroke="#000" stroke-width="0.2" font-style="italic" textLength="17.6" lengthAdjust="spacingAndGlyphs">M</text>
<path d="M164.9,403.8 H197.1" stroke="#f00" stroke-width="2.2" stroke-dasharray="4.7,2.1" fill="none"/>
<text x="203.8" y="408.9" font-size="21.4" fill="#f00" stroke="#f00" stroke-width="0.2" font-style="italic" textLength="18.2" lengthAdjust="spacingAndGlyphs">M</text>
<text x="228.2" y="408.9" font-size="21.4" fill="#f00" stroke="#f00" stroke-width="0.2" textLength="15.8" lengthAdjust="spacingAndGlyphs">=</text>
<text x="249.6" y="408.9" font-size="21.4" fill="#f00" stroke="#f00" stroke-width="0.2" textLength="34" lengthAdjust="spacingAndGlyphs">150</text>
<text x="285.6" y="408.9" font-size="21.4" fill="#f00" stroke="#f00" stroke-width="0.2" textLength="5.2" lengthAdjust="spacingAndGlyphs">,</text>
<text x="295.8" y="408.9" font-size="21.4" fill="#f00" stroke="#f00" stroke-width="0.2" font-style="italic" textLength="14.6" lengthAdjust="spacingAndGlyphs">N</text>
<text x="317.7" y="408.9" font-size="21.4" fill="#f00" stroke="#f00" stroke-width="0.2" textLength="15.8" lengthAdjust="spacingAndGlyphs">=</text>
<text x="338.9" y="408.9" font-size="21.4" fill="#f00" stroke="#f00" stroke-width="0.2" textLength="11.2" lengthAdjust="spacingAndGlyphs">4</text>
<text x="351.6" y="408.9" font-size="21.4" fill="#f00" stroke="#f00" stroke-width="0.2" font-style="italic" textLength="17.6" lengthAdjust="spacingAndGlyphs">M</text>
<path d="M164.9,431.3 H197.1" stroke="#00f" stroke-width="2.3" fill="none"/>
<text x="203.8" y="437.0" font-size="21.4" fill="#00f" stroke="#00f" stroke-width="0.2" font-style="italic" textLength="18.2" lengthAdjust="spacingAndGlyphs">M</text>
<text x="228.2" y="437.0" font-size="21.4" fill="#00f" stroke="#00f" stroke-width="0.2" textLength="15.8" lengthAdjust="spacingAndGlyphs">=</text>
<text x="249.6" y="437.0" font-size="21.4" fill="#00f" stroke="#00f" stroke-width="0.2" textLength="34" lengthAdjust="spacingAndGlyphs">150</text>
<text x="285.6" y="437.0" font-size="21.4" fill="#00f" stroke="#00f" stroke-width="0.2" textLength="5.2" lengthAdjust="spacingAndGlyphs">,</text>
<text x="295.8" y="437.0" font-size="21.4" fill="#00f" stroke="#00f" stroke-width="0.2" font-style="italic" textLength="14.6" lengthAdjust="spacingAndGlyphs">N</text>
<text x="317.7" y="437.0" font-size="21.4" fill="#00f" stroke="#00f" stroke-width="0.2" textLength="15.8" lengthAdjust="spacingAndGlyphs">=</text>
<text x="338.9" y="437.0" font-size="21.4" fill="#00f" stroke="#00f" stroke-width="0.2" textLength="11.2" lengthAdjust="spacingAndGlyphs">8</text>
<text x="351.6" y="437.0" font-size="21.4" fill="#00f" stroke="#00f" stroke-width="0.2" font-style="italic" textLength="17.6" lengthAdjust="spacingAndGlyphs">M</text>
<path d="M476.2,459.1 H508.3" stroke="#000" stroke-width="1.25" fill="none"/>
<path d="M476.2,490.2 H508.3" stroke="#ff8000" stroke-width="2.3" fill="none"/>
<path d="M476.2,521.8 H508.3" stroke="#f00" stroke-width="2.2" stroke-dasharray="4.7,2.1" fill="none"/>
<path d="M476.2,553.1 H508.3" stroke="#00f" stroke-width="1.3" stroke-dasharray="4.7,2.1" fill="none"/>
<text x="515" y="464.5" font-size="21" fill="#000" stroke="#000" stroke-width="0.2" textLength="43" lengthAdjust="spacingAndGlyphs">Fejér</text>
<text x="515.3" y="496.2" font-size="21" fill="#ff8000" stroke="#ff8000" stroke-width="0.2" textLength="11.8" lengthAdjust="spacingAndGlyphs">Γ</text>
<text x="530.8" y="496.2" font-size="21.4" fill="#ff8000" stroke="#ff8000" stroke-width="0.2" textLength="15.8" lengthAdjust="spacingAndGlyphs">=</text>
<text x="553" y="496.2" font-size="21.4" fill="#ff8000" stroke="#ff8000" stroke-width="0.2" textLength="41" lengthAdjust="spacingAndGlyphs">0.02</text>
<path d="M596.4,480.3 V500.6 M618.9,480.3 V500.6" stroke="#ff8000" stroke-width="1.1" fill="none"/>
<text x="600.2" y="496.2" font-size="21.4" fill="#ff8000" stroke="#ff8000" stroke-width="0.2" font-style="italic" textLength="7.2" lengthAdjust="spacingAndGlyphs">t</text>
<text x="608.6" y="500.6" font-size="15" fill="#ff8000" stroke="#ff8000" stroke-width="0.2" textLength="6.6" lengthAdjust="spacingAndGlyphs">1</text>
<text x="515" y="528.8" font-size="21" fill="#f00" stroke="#f00" stroke-width="0.2" textLength="87.2" lengthAdjust="spacingAndGlyphs">No kernel</text>
<text x="514.3" y="560.4" font-size="21" fill="#00f" stroke="#00f" stroke-width="0.2" textLength="70.6" lengthAdjust="spacingAndGlyphs">Jackson</text>
<rect x="292.6" y="154.6" width="49.1" height="29.0" fill="#fff"/>
<text x="295.0" y="173.5" font-size="25" fill="#000" stroke="#000" stroke-width="0.2" font-style="italic" textLength="15.0" lengthAdjust="spacingAndGlyphs">E</text>
<text x="309.4" y="179.6" font-size="17.6" fill="#000" stroke="#000" stroke-width="0.2" textLength="29" lengthAdjust="spacingAndGlyphs">min</text>
<text x="734.2" y="218.3" font-size="25" fill="#000" stroke="#000" stroke-width="0.2" font-style="italic" textLength="15.0" lengthAdjust="spacingAndGlyphs">E</text>
<text x="748" y="224.4" font-size="17.6" fill="#000" stroke="#000" stroke-width="0.2" textLength="32.2" lengthAdjust="spacingAndGlyphs">max</text>
<path d="M517.88,5.29 L522.88,5.87 L523.17,15.00 L524.62,15.38 L521.92,17.98 L520.62,16.25 L516.15,18.75 L513.85,16.63 L513.27,12.02 L514.42,7.93 Z M517.88,7.50 L520.48,7.84 L520.67,14.81 L517.12,16.63 L516.15,15.29 L515.87,11.54 L516.54,8.94 Z" fill="#000" fill-rule="evenodd"/>
<text x="524.9" y="23.7" font-size="18" fill="#000" stroke="#000" stroke-width="0.2" font-style="italic" textLength="12.4" lengthAdjust="spacingAndGlyphs">N</text>
<path d="M544.78,137.69 L549.78,138.27 L550.07,147.40 L551.52,147.78 L548.82,150.38 L547.52,148.65 L543.05,151.15 L540.75,149.03 L540.17,144.42 L541.32,140.33 Z M544.78,139.90 L547.38,140.24 L547.57,147.21 L544.02,149.03 L543.05,147.69 L542.77,143.94 L543.44,141.34 Z" fill="#000" fill-rule="evenodd"/>
<path d="M553.4,155.9 L559.2,145.4 L565.0,155.9 Z" fill="none" stroke="#000" stroke-width="1.1"/>
<path d="M459.23,50.25 L460.29,51.79 L463.75,49.87 L464.13,50.44 L461.44,52.41 L461.54,57.08 L465.00,55.44 L468.65,57.85 L468.17,64.29 L462.02,68.71 L459.04,66.21 L459.52,58.42 Z M461.54,58.52 L464.42,57.27 L466.25,58.90 L465.96,64.19 L462.60,66.69 L461.54,65.25 Z" fill="#000" fill-rule="evenodd"/>
<text x="469.9" y="73.5" font-size="18" fill="#000" stroke="#000" stroke-width="0.2" font-style="italic" textLength="12.4" lengthAdjust="spacingAndGlyphs">N</text>
</g></svg>
</body></html>
